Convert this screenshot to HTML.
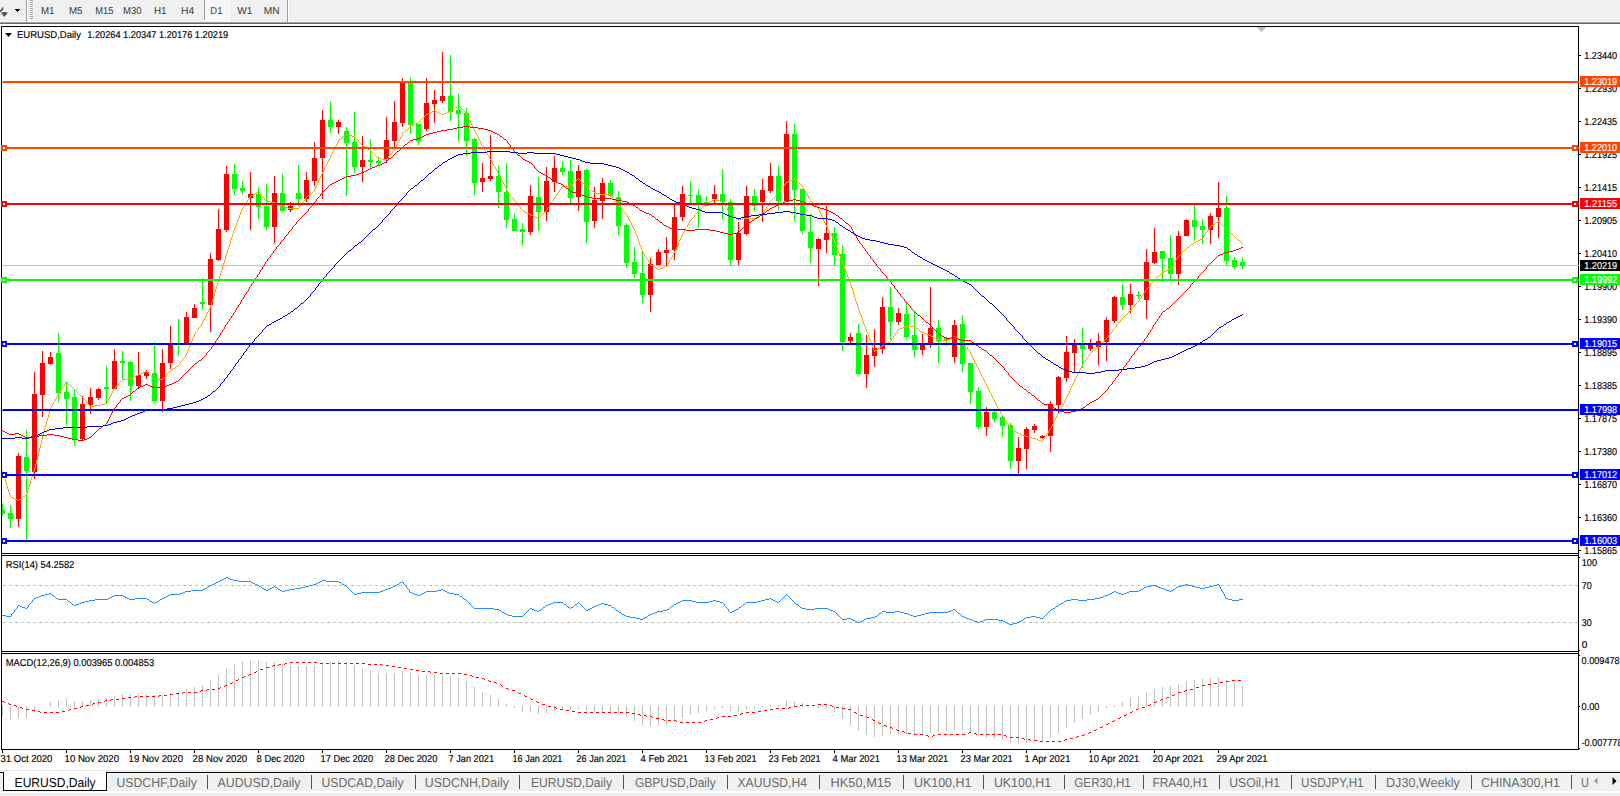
<!DOCTYPE html>
<html lang="en"><head><meta charset="utf-8"><title>EURUSD,Daily</title>
<style>
html,body{margin:0;padding:0;background:#fff;overflow:hidden}
body{width:1620px;height:796px}
svg{display:block;position:absolute;left:0;top:0}
text{white-space:pre}
</style></head><body>
<svg width="1620" height="796" viewBox="0 0 1620 796" font-family='"Liberation Sans", sans-serif' shape-rendering="crispEdges" text-rendering="geometricPrecision">
<rect x="0" y="0" width="1620" height="796" fill="#fff"/>
<rect x="0" y="0" width="1620" height="22" fill="#f0f0f0"/>
<rect x="0" y="21" width="1620" height="1" fill="#f4f4f4"/>
<rect x="0" y="22" width="1620" height="1" fill="#a0a0a0"/>
<rect x="0" y="23" width="1620" height="1" fill="#696969"/>
<g shape-rendering="auto">
<path d="M-1 11.5 Q2.6 10.6 2.6 7.4" stroke="#505050" stroke-width="1.6" fill="none"/>
<path d="M1 12.6 L4.4 17 L7.9 12.6 Q4.4 11.6 1 12.6Z" fill="#505050"/>
</g>
<rect x="15" y="9" width="5" height="1" fill="#000"/>
<rect x="16" y="10" width="3" height="1" fill="#000"/>
<rect x="17" y="11" width="1" height="1" fill="#000"/>
<rect x="26" y="0" width="1" height="22" fill="#a0a0a0"/>
<rect x="27" y="0" width="1" height="22" fill="#fff"/>
<rect x="30" y="0" width="3" height="1" fill="#a6a6a6"/>
<rect x="30" y="1" width="3" height="1" fill="#f8f8f8"/>
<rect x="30" y="2" width="3" height="1" fill="#a6a6a6"/>
<rect x="30" y="3" width="3" height="1" fill="#f8f8f8"/>
<rect x="30" y="4" width="3" height="1" fill="#a6a6a6"/>
<rect x="30" y="5" width="3" height="1" fill="#f8f8f8"/>
<rect x="30" y="6" width="3" height="1" fill="#a6a6a6"/>
<rect x="30" y="7" width="3" height="1" fill="#f8f8f8"/>
<rect x="30" y="8" width="3" height="1" fill="#a6a6a6"/>
<rect x="30" y="9" width="3" height="1" fill="#f8f8f8"/>
<rect x="30" y="10" width="3" height="1" fill="#a6a6a6"/>
<rect x="30" y="11" width="3" height="1" fill="#f8f8f8"/>
<rect x="30" y="12" width="3" height="1" fill="#a6a6a6"/>
<rect x="30" y="13" width="3" height="1" fill="#f8f8f8"/>
<rect x="30" y="14" width="3" height="1" fill="#a6a6a6"/>
<rect x="30" y="15" width="3" height="1" fill="#f8f8f8"/>
<rect x="30" y="16" width="3" height="1" fill="#a6a6a6"/>
<rect x="30" y="17" width="3" height="1" fill="#f8f8f8"/>
<rect x="30" y="18" width="3" height="1" fill="#a6a6a6"/>
<rect x="30" y="19" width="3" height="1" fill="#f8f8f8"/>
<defs><pattern id="chk" width="2" height="2" patternUnits="userSpaceOnUse"><rect width="2" height="2" fill="#f0f0f0"/><rect width="1" height="1" fill="#fff"/><rect x="1" y="1" width="1" height="1" fill="#fff"/></pattern></defs>
<rect x="205" y="0" width="24" height="20" fill="url(#chk)"/>
<rect x="204" y="0" width="1" height="20" fill="#a0a0a0"/>
<rect x="229" y="0" width="1" height="21" fill="#fff"/>
<rect x="204" y="20" width="26" height="1" fill="#fff"/>
<rect x="287" y="0" width="1" height="22" fill="#a0a0a0"/>
<rect x="288" y="0" width="1" height="22" fill="#fff"/>
<text x="40.9" y="14" font-size="10" fill="#3c3c3c" stroke="#3c3c3c" stroke-width="0.05" textLength="13.5" lengthAdjust="spacingAndGlyphs">M1</text>
<text x="68.9" y="14" font-size="10" fill="#3c3c3c" stroke="#3c3c3c" stroke-width="0.05" textLength="13.5" lengthAdjust="spacingAndGlyphs">M5</text>
<text x="95.2" y="14" font-size="10" fill="#3c3c3c" stroke="#3c3c3c" stroke-width="0.05" textLength="18.2" lengthAdjust="spacingAndGlyphs">M15</text>
<text x="123" y="14" font-size="10" fill="#3c3c3c" stroke="#3c3c3c" stroke-width="0.05" textLength="18.4" lengthAdjust="spacingAndGlyphs">M30</text>
<text x="154" y="14" font-size="10" fill="#3c3c3c" stroke="#3c3c3c" stroke-width="0.05" textLength="12.6" lengthAdjust="spacingAndGlyphs">H1</text>
<text x="180.9" y="14" font-size="10" fill="#3c3c3c" stroke="#3c3c3c" stroke-width="0.05" textLength="13.3" lengthAdjust="spacingAndGlyphs">H4</text>
<text x="210.3" y="14" font-size="10" fill="#3c3c3c" stroke="#3c3c3c" stroke-width="0.05" textLength="12.1" lengthAdjust="spacingAndGlyphs">D1</text>
<text x="237.2" y="14" font-size="10" fill="#3c3c3c" stroke="#3c3c3c" stroke-width="0.05" textLength="15.2" lengthAdjust="spacingAndGlyphs">W1</text>
<text x="263.8" y="14" font-size="10" fill="#3c3c3c" stroke="#3c3c3c" stroke-width="0.05" textLength="15.9" lengthAdjust="spacingAndGlyphs">MN</text>
<rect x="1" y="26" width="1578" height="1" fill="#000"/>
<rect x="1" y="26" width="1" height="724" fill="#000"/>
<rect x="1578" y="26" width="1" height="724" fill="#000"/>
<rect x="1" y="553" width="1578" height="1" fill="#000"/>
<rect x="1" y="555" width="1578" height="1" fill="#000"/>
<rect x="1" y="651" width="1578" height="1" fill="#000"/>
<rect x="1" y="653" width="1578" height="1" fill="#000"/>
<rect x="1" y="749" width="1578" height="1" fill="#000"/>
<rect x="1257" y="27" width="9" height="1" fill="#c0c0c0"/>
<rect x="1258" y="28" width="7" height="1" fill="#c0c0c0"/>
<rect x="1259" y="29" width="5" height="1" fill="#c0c0c0"/>
<rect x="1260" y="30" width="3" height="1" fill="#c0c0c0"/>
<rect x="1261" y="31" width="1" height="1" fill="#c0c0c0"/>
<defs><clipPath id="cm"><rect x="2" y="27" width="1577" height="526"/></clipPath><clipPath id="cr"><rect x="2" y="556" width="1576" height="95"/></clipPath><clipPath id="cd"><rect x="2" y="654" width="1576" height="95"/></clipPath></defs>
<g clip-path="url(#cm)">
<rect x="2" y="265" width="1577" height="1" fill="#c0c0c0"/>
<rect x="2" y="504" width="1" height="12" fill="#00ff00"/>
<rect x="0" y="510" width="5" height="4" fill="#00ff00"/>
<rect x="10" y="505" width="1" height="23" fill="#00ff00"/>
<rect x="8" y="513" width="5" height="6" fill="#00ff00"/>
<rect x="18" y="453" width="1" height="74" fill="#ff0000"/>
<rect x="16" y="456" width="5" height="63" fill="#ff0000"/>
<rect x="26" y="430" width="1" height="110" fill="#00ff00"/>
<rect x="24" y="457" width="5" height="14" fill="#00ff00"/>
<rect x="34" y="372" width="1" height="107" fill="#ff0000"/>
<rect x="32" y="394" width="5" height="78" fill="#ff0000"/>
<rect x="42" y="351" width="1" height="66" fill="#ff0000"/>
<rect x="40" y="363" width="5" height="32" fill="#ff0000"/>
<rect x="50" y="352" width="1" height="13" fill="#ff0000"/>
<rect x="48" y="357" width="5" height="7" fill="#ff0000"/>
<rect x="58" y="333" width="1" height="69" fill="#00ff00"/>
<rect x="56" y="353" width="5" height="40" fill="#00ff00"/>
<rect x="66" y="381" width="1" height="44" fill="#00ff00"/>
<rect x="64" y="392" width="5" height="7" fill="#00ff00"/>
<rect x="74" y="389" width="1" height="57" fill="#00ff00"/>
<rect x="72" y="397" width="5" height="42" fill="#00ff00"/>
<rect x="82" y="396" width="1" height="44" fill="#ff0000"/>
<rect x="80" y="404" width="5" height="35" fill="#ff0000"/>
<rect x="90" y="388" width="1" height="26" fill="#ff0000"/>
<rect x="88" y="397" width="5" height="8" fill="#ff0000"/>
<rect x="98" y="388" width="1" height="12" fill="#ff0000"/>
<rect x="96" y="389" width="5" height="9" fill="#ff0000"/>
<rect x="106" y="366" width="1" height="37" fill="#00ff00"/>
<rect x="104" y="387" width="5" height="2" fill="#00ff00"/>
<rect x="114" y="349" width="1" height="40" fill="#ff0000"/>
<rect x="112" y="361" width="5" height="28" fill="#ff0000"/>
<rect x="122" y="351" width="1" height="28" fill="#00ff00"/>
<rect x="120" y="361" width="5" height="2" fill="#00ff00"/>
<rect x="130" y="361" width="1" height="40" fill="#00ff00"/>
<rect x="128" y="362" width="5" height="24" fill="#00ff00"/>
<rect x="138" y="352" width="1" height="37" fill="#ff0000"/>
<rect x="136" y="375" width="5" height="11" fill="#ff0000"/>
<rect x="146" y="370" width="1" height="9" fill="#ff0000"/>
<rect x="144" y="372" width="5" height="4" fill="#ff0000"/>
<rect x="154" y="342" width="1" height="61" fill="#00ff00"/>
<rect x="152" y="373" width="5" height="28" fill="#00ff00"/>
<rect x="162" y="349" width="1" height="63" fill="#ff0000"/>
<rect x="160" y="363" width="5" height="38" fill="#ff0000"/>
<rect x="170" y="326" width="1" height="43" fill="#ff0000"/>
<rect x="168" y="344" width="5" height="19" fill="#ff0000"/>
<rect x="178" y="319" width="1" height="37" fill="#00ff00"/>
<rect x="176" y="343" width="5" height="2" fill="#00ff00"/>
<rect x="186" y="312" width="1" height="31" fill="#ff0000"/>
<rect x="184" y="317" width="5" height="26" fill="#ff0000"/>
<rect x="194" y="304" width="1" height="14" fill="#ff0000"/>
<rect x="192" y="308" width="5" height="10" fill="#ff0000"/>
<rect x="202" y="278" width="1" height="32" fill="#00ff00"/>
<rect x="200" y="302" width="5" height="2" fill="#00ff00"/>
<rect x="210" y="253" width="1" height="79" fill="#ff0000"/>
<rect x="208" y="259" width="5" height="46" fill="#ff0000"/>
<rect x="218" y="209" width="1" height="52" fill="#ff0000"/>
<rect x="216" y="229" width="5" height="31" fill="#ff0000"/>
<rect x="226" y="166" width="1" height="66" fill="#ff0000"/>
<rect x="224" y="174" width="5" height="56" fill="#ff0000"/>
<rect x="234" y="164" width="1" height="31" fill="#00ff00"/>
<rect x="232" y="174" width="5" height="15" fill="#00ff00"/>
<rect x="242" y="181" width="1" height="13" fill="#00ff00"/>
<rect x="240" y="188" width="5" height="3" fill="#00ff00"/>
<rect x="250" y="172" width="1" height="58" fill="#ff0000"/>
<rect x="248" y="194" width="5" height="4" fill="#ff0000"/>
<rect x="258" y="187" width="1" height="32" fill="#00ff00"/>
<rect x="256" y="194" width="5" height="13" fill="#00ff00"/>
<rect x="266" y="184" width="1" height="46" fill="#00ff00"/>
<rect x="264" y="206" width="5" height="21" fill="#00ff00"/>
<rect x="274" y="176" width="1" height="67" fill="#ff0000"/>
<rect x="272" y="193" width="5" height="34" fill="#ff0000"/>
<rect x="282" y="174" width="1" height="38" fill="#00ff00"/>
<rect x="280" y="193" width="5" height="18" fill="#00ff00"/>
<rect x="290" y="202" width="1" height="10" fill="#ff0000"/>
<rect x="288" y="206" width="5" height="4" fill="#ff0000"/>
<rect x="298" y="165" width="1" height="41" fill="#00ff00"/>
<rect x="296" y="193" width="5" height="6" fill="#00ff00"/>
<rect x="306" y="172" width="1" height="30" fill="#ff0000"/>
<rect x="304" y="180" width="5" height="19" fill="#ff0000"/>
<rect x="314" y="142" width="1" height="44" fill="#ff0000"/>
<rect x="312" y="158" width="5" height="23" fill="#ff0000"/>
<rect x="322" y="110" width="1" height="89" fill="#ff0000"/>
<rect x="320" y="120" width="5" height="38" fill="#ff0000"/>
<rect x="330" y="102" width="1" height="31" fill="#00ff00"/>
<rect x="328" y="120" width="5" height="7" fill="#00ff00"/>
<rect x="338" y="120" width="1" height="14" fill="#ff0000"/>
<rect x="336" y="122" width="5" height="5" fill="#ff0000"/>
<rect x="346" y="127" width="1" height="69" fill="#00ff00"/>
<rect x="344" y="131" width="5" height="12" fill="#00ff00"/>
<rect x="354" y="112" width="1" height="61" fill="#00ff00"/>
<rect x="352" y="142" width="5" height="25" fill="#00ff00"/>
<rect x="362" y="136" width="1" height="46" fill="#ff0000"/>
<rect x="360" y="160" width="5" height="7" fill="#ff0000"/>
<rect x="370" y="139" width="1" height="29" fill="#00ff00"/>
<rect x="368" y="160" width="5" height="2" fill="#00ff00"/>
<rect x="378" y="157" width="1" height="8" fill="#00ff00"/>
<rect x="376" y="161" width="5" height="2" fill="#00ff00"/>
<rect x="386" y="117" width="1" height="46" fill="#ff0000"/>
<rect x="384" y="140" width="5" height="19" fill="#ff0000"/>
<rect x="394" y="101" width="1" height="47" fill="#ff0000"/>
<rect x="392" y="122" width="5" height="19" fill="#ff0000"/>
<rect x="402" y="78" width="1" height="49" fill="#ff0000"/>
<rect x="400" y="83" width="5" height="40" fill="#ff0000"/>
<rect x="410" y="78" width="1" height="56" fill="#00ff00"/>
<rect x="408" y="83" width="5" height="42" fill="#00ff00"/>
<rect x="418" y="124" width="1" height="21" fill="#00ff00"/>
<rect x="416" y="124" width="5" height="17" fill="#00ff00"/>
<rect x="426" y="78" width="1" height="53" fill="#ff0000"/>
<rect x="424" y="103" width="5" height="26" fill="#ff0000"/>
<rect x="434" y="90" width="1" height="33" fill="#ff0000"/>
<rect x="432" y="100" width="5" height="4" fill="#ff0000"/>
<rect x="442" y="52" width="1" height="51" fill="#ff0000"/>
<rect x="440" y="96" width="5" height="5" fill="#ff0000"/>
<rect x="450" y="55" width="1" height="66" fill="#00ff00"/>
<rect x="448" y="96" width="5" height="16" fill="#00ff00"/>
<rect x="458" y="94" width="1" height="48" fill="#00ff00"/>
<rect x="456" y="110" width="5" height="4" fill="#00ff00"/>
<rect x="466" y="108" width="1" height="47" fill="#00ff00"/>
<rect x="464" y="113" width="5" height="28" fill="#00ff00"/>
<rect x="474" y="138" width="1" height="57" fill="#00ff00"/>
<rect x="472" y="139" width="5" height="44" fill="#00ff00"/>
<rect x="482" y="163" width="1" height="29" fill="#ff0000"/>
<rect x="480" y="178" width="5" height="4" fill="#ff0000"/>
<rect x="490" y="135" width="1" height="46" fill="#ff0000"/>
<rect x="488" y="176" width="5" height="3" fill="#ff0000"/>
<rect x="498" y="166" width="1" height="42" fill="#00ff00"/>
<rect x="496" y="176" width="5" height="16" fill="#00ff00"/>
<rect x="506" y="163" width="1" height="65" fill="#00ff00"/>
<rect x="504" y="192" width="5" height="28" fill="#00ff00"/>
<rect x="514" y="214" width="1" height="17" fill="#00ff00"/>
<rect x="512" y="219" width="5" height="12" fill="#00ff00"/>
<rect x="522" y="223" width="1" height="23" fill="#00ff00"/>
<rect x="520" y="229" width="5" height="3" fill="#00ff00"/>
<rect x="530" y="185" width="1" height="50" fill="#ff0000"/>
<rect x="528" y="196" width="5" height="36" fill="#ff0000"/>
<rect x="538" y="177" width="1" height="54" fill="#00ff00"/>
<rect x="536" y="197" width="5" height="15" fill="#00ff00"/>
<rect x="546" y="167" width="1" height="54" fill="#ff0000"/>
<rect x="544" y="181" width="5" height="31" fill="#ff0000"/>
<rect x="554" y="156" width="1" height="36" fill="#ff0000"/>
<rect x="552" y="168" width="5" height="14" fill="#ff0000"/>
<rect x="562" y="161" width="1" height="14" fill="#00ff00"/>
<rect x="560" y="168" width="5" height="4" fill="#00ff00"/>
<rect x="570" y="160" width="1" height="43" fill="#00ff00"/>
<rect x="568" y="171" width="5" height="27" fill="#00ff00"/>
<rect x="578" y="165" width="1" height="46" fill="#ff0000"/>
<rect x="576" y="171" width="5" height="26" fill="#ff0000"/>
<rect x="586" y="169" width="1" height="74" fill="#00ff00"/>
<rect x="584" y="170" width="5" height="52" fill="#00ff00"/>
<rect x="594" y="187" width="1" height="41" fill="#ff0000"/>
<rect x="592" y="200" width="5" height="21" fill="#ff0000"/>
<rect x="602" y="178" width="1" height="41" fill="#ff0000"/>
<rect x="600" y="183" width="5" height="18" fill="#ff0000"/>
<rect x="610" y="180" width="1" height="17" fill="#00ff00"/>
<rect x="608" y="183" width="5" height="13" fill="#00ff00"/>
<rect x="618" y="191" width="1" height="44" fill="#00ff00"/>
<rect x="616" y="197" width="5" height="29" fill="#00ff00"/>
<rect x="626" y="223" width="1" height="45" fill="#00ff00"/>
<rect x="624" y="225" width="5" height="38" fill="#00ff00"/>
<rect x="634" y="247" width="1" height="31" fill="#00ff00"/>
<rect x="632" y="262" width="5" height="12" fill="#00ff00"/>
<rect x="642" y="252" width="1" height="51" fill="#00ff00"/>
<rect x="640" y="273" width="5" height="22" fill="#00ff00"/>
<rect x="650" y="258" width="1" height="54" fill="#ff0000"/>
<rect x="648" y="264" width="5" height="31" fill="#ff0000"/>
<rect x="658" y="249" width="1" height="16" fill="#ff0000"/>
<rect x="656" y="252" width="5" height="13" fill="#ff0000"/>
<rect x="666" y="237" width="1" height="30" fill="#ff0000"/>
<rect x="664" y="250" width="5" height="3" fill="#ff0000"/>
<rect x="674" y="203" width="1" height="57" fill="#ff0000"/>
<rect x="672" y="217" width="5" height="33" fill="#ff0000"/>
<rect x="682" y="186" width="1" height="35" fill="#ff0000"/>
<rect x="680" y="194" width="5" height="23" fill="#ff0000"/>
<rect x="690" y="182" width="1" height="21" fill="#00ff00"/>
<rect x="688" y="195" width="5" height="1" fill="#00ff00"/>
<rect x="698" y="190" width="1" height="38" fill="#00ff00"/>
<rect x="696" y="195" width="5" height="8" fill="#00ff00"/>
<rect x="706" y="196" width="1" height="10" fill="#00ff00"/>
<rect x="704" y="202" width="5" height="4" fill="#00ff00"/>
<rect x="714" y="185" width="1" height="18" fill="#ff0000"/>
<rect x="712" y="194" width="5" height="5" fill="#ff0000"/>
<rect x="722" y="169" width="1" height="50" fill="#00ff00"/>
<rect x="720" y="194" width="5" height="8" fill="#00ff00"/>
<rect x="730" y="199" width="1" height="67" fill="#00ff00"/>
<rect x="728" y="202" width="5" height="58" fill="#00ff00"/>
<rect x="738" y="222" width="1" height="43" fill="#ff0000"/>
<rect x="736" y="233" width="5" height="27" fill="#ff0000"/>
<rect x="746" y="186" width="1" height="49" fill="#ff0000"/>
<rect x="744" y="196" width="5" height="38" fill="#ff0000"/>
<rect x="754" y="189" width="1" height="22" fill="#00ff00"/>
<rect x="752" y="196" width="5" height="10" fill="#00ff00"/>
<rect x="762" y="179" width="1" height="43" fill="#ff0000"/>
<rect x="760" y="190" width="5" height="12" fill="#ff0000"/>
<rect x="770" y="163" width="1" height="30" fill="#ff0000"/>
<rect x="768" y="176" width="5" height="15" fill="#ff0000"/>
<rect x="778" y="166" width="1" height="44" fill="#00ff00"/>
<rect x="776" y="176" width="5" height="25" fill="#00ff00"/>
<rect x="786" y="121" width="1" height="81" fill="#ff0000"/>
<rect x="784" y="134" width="5" height="67" fill="#ff0000"/>
<rect x="794" y="124" width="1" height="97" fill="#00ff00"/>
<rect x="792" y="134" width="5" height="56" fill="#00ff00"/>
<rect x="802" y="189" width="1" height="45" fill="#00ff00"/>
<rect x="800" y="189" width="5" height="42" fill="#00ff00"/>
<rect x="810" y="214" width="1" height="49" fill="#00ff00"/>
<rect x="808" y="232" width="5" height="16" fill="#00ff00"/>
<rect x="818" y="238" width="1" height="48" fill="#ff0000"/>
<rect x="816" y="239" width="5" height="10" fill="#ff0000"/>
<rect x="826" y="206" width="1" height="47" fill="#ff0000"/>
<rect x="824" y="233" width="5" height="7" fill="#ff0000"/>
<rect x="834" y="227" width="1" height="39" fill="#00ff00"/>
<rect x="832" y="233" width="5" height="22" fill="#00ff00"/>
<rect x="842" y="245" width="1" height="106" fill="#00ff00"/>
<rect x="840" y="254" width="5" height="88" fill="#00ff00"/>
<rect x="850" y="333" width="1" height="10" fill="#ff0000"/>
<rect x="848" y="337" width="5" height="4" fill="#ff0000"/>
<rect x="858" y="324" width="1" height="51" fill="#00ff00"/>
<rect x="856" y="333" width="5" height="41" fill="#00ff00"/>
<rect x="866" y="335" width="1" height="53" fill="#ff0000"/>
<rect x="864" y="355" width="5" height="19" fill="#ff0000"/>
<rect x="874" y="329" width="1" height="38" fill="#ff0000"/>
<rect x="872" y="348" width="5" height="8" fill="#ff0000"/>
<rect x="882" y="297" width="1" height="57" fill="#ff0000"/>
<rect x="880" y="307" width="5" height="42" fill="#ff0000"/>
<rect x="890" y="287" width="1" height="53" fill="#00ff00"/>
<rect x="888" y="307" width="5" height="15" fill="#00ff00"/>
<rect x="898" y="308" width="1" height="17" fill="#ff0000"/>
<rect x="896" y="313" width="5" height="9" fill="#ff0000"/>
<rect x="906" y="301" width="1" height="38" fill="#00ff00"/>
<rect x="904" y="314" width="5" height="23" fill="#00ff00"/>
<rect x="914" y="312" width="1" height="46" fill="#00ff00"/>
<rect x="912" y="335" width="5" height="15" fill="#00ff00"/>
<rect x="922" y="334" width="1" height="21" fill="#ff0000"/>
<rect x="920" y="345" width="5" height="5" fill="#ff0000"/>
<rect x="930" y="287" width="1" height="61" fill="#ff0000"/>
<rect x="928" y="328" width="5" height="17" fill="#ff0000"/>
<rect x="938" y="320" width="1" height="43" fill="#00ff00"/>
<rect x="936" y="328" width="5" height="13" fill="#00ff00"/>
<rect x="946" y="337" width="1" height="9" fill="#00ff00"/>
<rect x="944" y="338" width="5" height="3" fill="#00ff00"/>
<rect x="954" y="320" width="1" height="43" fill="#ff0000"/>
<rect x="952" y="325" width="5" height="32" fill="#ff0000"/>
<rect x="962" y="315" width="1" height="57" fill="#00ff00"/>
<rect x="960" y="324" width="5" height="40" fill="#00ff00"/>
<rect x="970" y="363" width="1" height="41" fill="#00ff00"/>
<rect x="968" y="363" width="5" height="29" fill="#00ff00"/>
<rect x="978" y="387" width="1" height="42" fill="#00ff00"/>
<rect x="976" y="391" width="5" height="36" fill="#00ff00"/>
<rect x="986" y="407" width="1" height="29" fill="#ff0000"/>
<rect x="984" y="412" width="5" height="15" fill="#ff0000"/>
<rect x="994" y="411" width="1" height="11" fill="#00ff00"/>
<rect x="992" y="412" width="5" height="7" fill="#00ff00"/>
<rect x="1002" y="415" width="1" height="22" fill="#00ff00"/>
<rect x="1000" y="417" width="5" height="9" fill="#00ff00"/>
<rect x="1010" y="423" width="1" height="46" fill="#00ff00"/>
<rect x="1008" y="425" width="5" height="36" fill="#00ff00"/>
<rect x="1018" y="437" width="1" height="37" fill="#ff0000"/>
<rect x="1016" y="448" width="5" height="13" fill="#ff0000"/>
<rect x="1026" y="427" width="1" height="42" fill="#ff0000"/>
<rect x="1024" y="429" width="5" height="20" fill="#ff0000"/>
<rect x="1034" y="424" width="1" height="9" fill="#ff0000"/>
<rect x="1032" y="426" width="5" height="4" fill="#ff0000"/>
<rect x="1042" y="435" width="1" height="4" fill="#ff0000"/>
<rect x="1040" y="436" width="5" height="2" fill="#ff0000"/>
<rect x="1050" y="401" width="1" height="51" fill="#ff0000"/>
<rect x="1048" y="404" width="5" height="32" fill="#ff0000"/>
<rect x="1058" y="376" width="1" height="38" fill="#ff0000"/>
<rect x="1056" y="377" width="5" height="28" fill="#ff0000"/>
<rect x="1066" y="336" width="1" height="46" fill="#ff0000"/>
<rect x="1064" y="352" width="5" height="26" fill="#ff0000"/>
<rect x="1074" y="339" width="1" height="33" fill="#ff0000"/>
<rect x="1072" y="345" width="5" height="8" fill="#ff0000"/>
<rect x="1082" y="328" width="1" height="40" fill="#00ff00"/>
<rect x="1080" y="345" width="5" height="4" fill="#00ff00"/>
<rect x="1090" y="339" width="1" height="12" fill="#ff0000"/>
<rect x="1088" y="345" width="5" height="4" fill="#ff0000"/>
<rect x="1098" y="333" width="1" height="32" fill="#ff0000"/>
<rect x="1096" y="341" width="5" height="6" fill="#ff0000"/>
<rect x="1106" y="317" width="1" height="44" fill="#ff0000"/>
<rect x="1104" y="320" width="5" height="22" fill="#ff0000"/>
<rect x="1114" y="296" width="1" height="27" fill="#ff0000"/>
<rect x="1112" y="297" width="5" height="24" fill="#ff0000"/>
<rect x="1122" y="284" width="1" height="26" fill="#00ff00"/>
<rect x="1120" y="297" width="5" height="8" fill="#00ff00"/>
<rect x="1130" y="284" width="1" height="29" fill="#ff0000"/>
<rect x="1128" y="294" width="5" height="11" fill="#ff0000"/>
<rect x="1138" y="291" width="1" height="8" fill="#00ff00"/>
<rect x="1136" y="295" width="5" height="1" fill="#00ff00"/>
<rect x="1146" y="249" width="1" height="70" fill="#ff0000"/>
<rect x="1144" y="262" width="5" height="38" fill="#ff0000"/>
<rect x="1154" y="228" width="1" height="36" fill="#ff0000"/>
<rect x="1152" y="252" width="5" height="11" fill="#ff0000"/>
<rect x="1162" y="251" width="1" height="31" fill="#00ff00"/>
<rect x="1160" y="251" width="5" height="8" fill="#00ff00"/>
<rect x="1170" y="235" width="1" height="44" fill="#00ff00"/>
<rect x="1168" y="258" width="5" height="16" fill="#00ff00"/>
<rect x="1178" y="231" width="1" height="54" fill="#ff0000"/>
<rect x="1176" y="236" width="5" height="38" fill="#ff0000"/>
<rect x="1186" y="219" width="1" height="17" fill="#ff0000"/>
<rect x="1184" y="220" width="5" height="16" fill="#ff0000"/>
<rect x="1194" y="205" width="1" height="36" fill="#00ff00"/>
<rect x="1192" y="220" width="5" height="7" fill="#00ff00"/>
<rect x="1202" y="219" width="1" height="25" fill="#00ff00"/>
<rect x="1200" y="226" width="5" height="4" fill="#00ff00"/>
<rect x="1210" y="213" width="1" height="31" fill="#ff0000"/>
<rect x="1208" y="216" width="5" height="14" fill="#ff0000"/>
<rect x="1218" y="182" width="1" height="56" fill="#ff0000"/>
<rect x="1216" y="208" width="5" height="9" fill="#ff0000"/>
<rect x="1226" y="196" width="1" height="69" fill="#00ff00"/>
<rect x="1224" y="208" width="5" height="53" fill="#00ff00"/>
<rect x="1234" y="257" width="1" height="12" fill="#00ff00"/>
<rect x="1232" y="260" width="5" height="7" fill="#00ff00"/>
<rect x="1242" y="257" width="1" height="12" fill="#00ff00"/>
<rect x="1240" y="262" width="5" height="4" fill="#00ff00"/>
<path fill="#ffa500" d="M458 105h1v1h-1zM457 106h1v1h-1zM459 106h1v1h-1zM455 107h2v1h-2zM460 107h1v1h-1zM454 108h1v1h-1zM461 108h1v1h-1zM453 109h1v1h-1zM462 109h1v1h-1zM434 110h1v1h-1zM451 110h2v1h-2zM463 110h1v1h-1zM432 111h2v1h-2zM435 111h2v1h-2zM449 111h2v1h-2zM464 111h1v1h-1zM430 112h2v1h-2zM437 112h2v1h-2zM447 112h2v1h-2zM465 112h1v1h-1zM428 113h2v1h-2zM439 113h2v1h-2zM444 113h3v1h-3zM466 113h1v2h-1zM426 114h2v1h-2zM441 114h3v1h-3zM425 115h1v1h-1zM467 115h1v2h-1zM424 116h1v1h-1zM423 117h1v1h-1zM468 117h1v2h-1zM422 118h1v1h-1zM421 119h1v1h-1zM469 119h1v2h-1zM420 120h1v1h-1zM419 121h1v1h-1zM470 121h1v2h-1zM418 122h1v1h-1zM416 123h2v1h-2zM471 123h1v2h-1zM414 124h2v1h-2zM412 125h2v1h-2zM472 125h1v2h-1zM410 126h2v1h-2zM409 127h1v1h-1zM473 127h1v2h-1zM408 128h1v1h-1zM407 129h1v1h-1zM474 129h1v2h-1zM405 130h2v1h-2zM404 131h1v1h-1zM475 131h1v2h-1zM403 132h1v1h-1zM402 133h1v2h-1zM476 133h1v2h-1zM346 134h2v1h-2zM345 135h1v1h-1zM348 135h4v1h-4zM401 135h1v2h-1zM477 135h1v2h-1zM343 136h2v1h-2zM352 136h3v1h-3zM342 137h1v1h-1zM355 137h1v1h-1zM400 137h1v2h-1zM478 137h1v2h-1zM341 138h1v1h-1zM356 138h1v1h-1zM339 139h2v1h-2zM357 139h1v1h-1zM399 139h1v2h-1zM479 139h1v2h-1zM338 140h1v2h-1zM358 140h1v2h-1zM398 141h1v2h-1zM480 141h1v2h-1zM337 142h1v2h-1zM359 142h1v1h-1zM360 143h1v1h-1zM397 143h1v2h-1zM481 143h1v2h-1zM336 144h1v2h-1zM361 144h1v1h-1zM362 145h1v1h-1zM396 145h1v2h-1zM482 145h1v1h-1zM335 146h1v2h-1zM363 146h2v1h-2zM483 146h1v2h-1zM365 147h1v1h-1zM395 147h1v2h-1zM334 148h1v2h-1zM366 148h2v1h-2zM484 148h1v2h-1zM368 149h2v1h-2zM394 149h1v1h-1zM333 150h1v2h-1zM370 150h1v1h-1zM393 150h1v1h-1zM485 150h1v2h-1zM371 151h1v1h-1zM392 151h1v2h-1zM332 152h1v2h-1zM372 152h1v1h-1zM486 152h1v1h-1zM373 153h1v1h-1zM391 153h1v1h-1zM487 153h1v2h-1zM331 154h1v2h-1zM374 154h1v1h-1zM390 154h1v1h-1zM375 155h1v1h-1zM389 155h1v1h-1zM488 155h1v2h-1zM330 156h1v2h-1zM376 156h1v1h-1zM388 156h1v2h-1zM377 157h1v1h-1zM489 157h1v2h-1zM329 158h1v2h-1zM378 158h4v1h-4zM387 158h1v1h-1zM382 159h5v1h-5zM490 159h1v1h-1zM328 160h1v2h-1zM491 160h1v2h-1zM327 162h1v2h-1zM492 162h1v2h-1zM326 164h1v2h-1zM493 164h1v2h-1zM325 166h1v2h-1zM494 166h1v1h-1zM495 167h1v2h-1zM324 168h1v2h-1zM496 169h1v2h-1zM323 170h1v2h-1zM497 171h1v2h-1zM322 172h1v2h-1zM498 173h1v1h-1zM321 174h1v2h-1zM499 174h1v2h-1zM320 176h1v2h-1zM500 176h1v2h-1zM319 178h1v2h-1zM501 178h1v2h-1zM578 178h1v1h-1zM794 178h1v1h-1zM577 179h1v1h-1zM579 179h1v1h-1zM792 179h2v1h-2zM795 179h1v1h-1zM318 180h1v3h-1zM502 180h1v2h-1zM576 180h1v1h-1zM580 180h1v1h-1zM790 180h2v1h-2zM796 180h1v1h-1zM575 181h1v1h-1zM581 181h1v1h-1zM788 181h2v1h-2zM797 181h1v1h-1zM503 182h1v2h-1zM574 182h1v1h-1zM582 182h1v1h-1zM786 182h2v1h-2zM798 182h1v1h-1zM317 183h1v2h-1zM573 183h1v1h-1zM583 183h1v1h-1zM785 183h1v2h-1zM799 183h1v1h-1zM504 184h1v2h-1zM572 184h1v1h-1zM584 184h1v1h-1zM800 184h1v1h-1zM316 185h1v2h-1zM571 185h1v1h-1zM585 185h1v1h-1zM784 185h1v1h-1zM801 185h1v1h-1zM505 186h1v2h-1zM562 186h9v1h-9zM586 186h1v1h-1zM783 186h1v1h-1zM802 186h1v1h-1zM315 187h1v2h-1zM561 187h1v2h-1zM587 187h1v1h-1zM782 187h1v2h-1zM803 187h1v2h-1zM506 188h1v2h-1zM588 188h2v1h-2zM314 189h1v2h-1zM560 189h1v1h-1zM590 189h1v1h-1zM781 189h1v1h-1zM804 189h1v2h-1zM507 190h1v2h-1zM559 190h1v2h-1zM591 190h1v1h-1zM780 190h1v1h-1zM258 191h1v1h-1zM313 191h1v1h-1zM592 191h2v1h-2zM779 191h1v2h-1zM805 191h1v2h-1zM256 192h2v1h-2zM259 192h1v1h-1zM312 192h1v1h-1zM508 192h1v1h-1zM558 192h1v1h-1zM594 192h2v1h-2zM255 193h1v1h-1zM260 193h1v2h-1zM311 193h1v1h-1zM509 193h1v1h-1zM557 193h1v2h-1zM596 193h4v1h-4zM778 193h1v1h-1zM806 193h1v1h-1zM253 194h2v1h-2zM309 194h2v1h-2zM510 194h1v2h-1zM600 194h11v1h-11zM777 194h1v1h-1zM807 194h1v2h-1zM251 195h2v1h-2zM261 195h1v1h-1zM308 195h1v1h-1zM556 195h1v1h-1zM611 195h1v2h-1zM776 195h1v1h-1zM250 196h1v1h-1zM262 196h1v1h-1zM307 196h1v1h-1zM511 196h1v1h-1zM555 196h1v2h-1zM775 196h1v1h-1zM808 196h1v2h-1zM249 197h1v2h-1zM263 197h1v1h-1zM306 197h1v1h-1zM512 197h1v1h-1zM612 197h1v1h-1zM774 197h1v1h-1zM264 198h1v2h-1zM305 198h1v2h-1zM513 198h1v2h-1zM554 198h1v1h-1zM613 198h1v1h-1zM773 198h1v1h-1zM809 198h1v2h-1zM248 199h1v1h-1zM553 199h1v2h-1zM614 199h1v2h-1zM714 199h2v1h-2zM772 199h1v1h-1zM247 200h1v2h-1zM265 200h1v1h-1zM304 200h1v1h-1zM514 200h1v1h-1zM712 200h2v1h-2zM716 200h4v1h-4zM771 200h1v1h-1zM810 200h1v1h-1zM266 201h4v1h-4zM303 201h1v1h-1zM515 201h1v1h-1zM552 201h1v1h-1zM615 201h1v1h-1zM710 201h2v1h-2zM720 201h3v1h-3zM770 201h1v1h-1zM811 201h1v1h-1zM246 202h1v1h-1zM270 202h5v1h-5zM302 202h1v2h-1zM516 202h1v2h-1zM551 202h1v2h-1zM616 202h1v1h-1zM708 202h2v1h-2zM723 202h1v2h-1zM769 202h1v2h-1zM812 202h1v1h-1zM245 203h1v2h-1zM275 203h2v1h-2zM617 203h1v2h-1zM706 203h2v1h-2zM813 203h1v1h-1zM277 204h2v1h-2zM301 204h1v1h-1zM517 204h1v1h-1zM550 204h1v1h-1zM705 204h1v1h-1zM724 204h1v1h-1zM768 204h1v2h-1zM814 204h1v1h-1zM244 205h1v1h-1zM279 205h2v1h-2zM300 205h1v1h-1zM518 205h1v1h-1zM549 205h1v2h-1zM618 205h1v1h-1zM704 205h1v1h-1zM725 205h1v2h-1zM815 205h1v1h-1zM243 206h1v2h-1zM281 206h3v1h-3zM299 206h1v2h-1zM519 206h1v1h-1zM619 206h1v1h-1zM703 206h1v1h-1zM767 206h1v1h-1zM816 206h1v1h-1zM284 207h4v1h-4zM520 207h1v2h-1zM548 207h1v1h-1zM620 207h1v1h-1zM702 207h1v1h-1zM726 207h1v1h-1zM766 207h1v2h-1zM817 207h1v1h-1zM242 208h1v2h-1zM288 208h11v1h-11zM547 208h1v2h-1zM621 208h1v1h-1zM701 208h1v1h-1zM727 208h1v2h-1zM818 208h1v2h-1zM521 209h1v1h-1zM622 209h1v2h-1zM700 209h1v1h-1zM765 209h1v1h-1zM241 210h1v2h-1zM522 210h1v1h-1zM546 210h1v1h-1zM699 210h1v1h-1zM728 210h1v1h-1zM764 210h1v2h-1zM819 210h1v2h-1zM523 211h2v1h-2zM545 211h1v1h-1zM623 211h1v1h-1zM698 211h1v1h-1zM729 211h1v2h-1zM240 212h1v3h-1zM525 212h2v1h-2zM544 212h1v1h-1zM624 212h1v1h-1zM697 212h1v1h-1zM763 212h1v2h-1zM820 212h1v2h-1zM527 213h2v1h-2zM543 213h1v1h-1zM625 213h1v1h-1zM696 213h1v1h-1zM730 213h1v1h-1zM529 214h2v1h-2zM542 214h1v1h-1zM626 214h1v1h-1zM695 214h1v1h-1zM731 214h1v1h-1zM762 214h1v1h-1zM821 214h1v2h-1zM239 215h1v3h-1zM531 215h2v1h-2zM541 215h1v1h-1zM627 215h1v2h-1zM694 215h1v2h-1zM732 215h2v1h-2zM760 215h2v1h-2zM533 216h2v1h-2zM540 216h1v1h-1zM734 216h1v1h-1zM758 216h2v1h-2zM822 216h1v3h-1zM535 217h2v1h-2zM539 217h1v1h-1zM628 217h1v2h-1zM693 217h1v1h-1zM735 217h1v1h-1zM756 217h2v1h-2zM238 218h1v2h-1zM537 218h2v1h-2zM692 218h1v1h-1zM736 218h2v1h-2zM743 218h13v1h-13zM629 219h1v2h-1zM691 219h1v1h-1zM738 219h5v1h-5zM823 219h1v2h-1zM237 220h1v3h-1zM690 220h1v1h-1zM630 221h1v2h-1zM689 221h1v2h-1zM824 221h1v2h-1zM1218 221h1v1h-1zM1216 222h2v1h-2zM1219 222h1v1h-1zM236 223h1v3h-1zM631 223h1v2h-1zM688 223h1v2h-1zM825 223h1v2h-1zM1215 223h1v1h-1zM1220 223h1v1h-1zM1213 224h2v1h-2zM1221 224h1v1h-1zM632 225h1v2h-1zM687 225h1v2h-1zM826 225h1v2h-1zM1211 225h2v1h-2zM1222 225h1v1h-1zM235 226h1v2h-1zM1210 226h1v1h-1zM1223 226h1v1h-1zM633 227h1v2h-1zM686 227h1v1h-1zM827 227h1v2h-1zM1209 227h1v2h-1zM1224 227h1v1h-1zM234 228h1v3h-1zM685 228h1v2h-1zM1225 228h1v1h-1zM634 229h1v2h-1zM828 229h1v2h-1zM1208 229h1v1h-1zM1226 229h1v1h-1zM684 230h1v2h-1zM1207 230h1v2h-1zM1227 230h1v1h-1zM233 231h1v3h-1zM635 231h1v3h-1zM829 231h1v2h-1zM1228 231h1v1h-1zM683 232h1v2h-1zM1206 232h1v1h-1zM1229 232h1v1h-1zM830 233h1v1h-1zM1205 233h1v2h-1zM1230 233h2v1h-2zM232 234h1v3h-1zM636 234h1v2h-1zM682 234h1v2h-1zM831 234h1v2h-1zM1232 234h1v1h-1zM1204 235h1v1h-1zM1233 235h1v1h-1zM637 236h1v3h-1zM681 236h1v2h-1zM832 236h1v2h-1zM1203 236h1v2h-1zM1234 236h1v1h-1zM231 237h1v3h-1zM1235 237h1v1h-1zM680 238h1v2h-1zM833 238h1v2h-1zM1202 238h1v1h-1zM1236 238h1v1h-1zM638 239h1v3h-1zM1200 239h2v1h-2zM1237 239h1v1h-1zM230 240h1v4h-1zM679 240h1v2h-1zM834 240h1v2h-1zM1198 240h2v1h-2zM1238 240h2v1h-2zM1196 241h2v1h-2zM1240 241h1v1h-1zM639 242h1v3h-1zM678 242h1v3h-1zM835 242h1v3h-1zM1194 242h2v1h-2zM1241 242h1v1h-1zM1193 243h1v1h-1zM1242 243h1v1h-1zM229 244h1v3h-1zM1191 244h2v1h-2zM640 245h1v2h-1zM677 245h1v2h-1zM836 245h1v2h-1zM1190 245h1v1h-1zM1189 246h1v1h-1zM228 247h1v3h-1zM641 247h1v3h-1zM676 247h1v2h-1zM837 247h1v3h-1zM1187 247h2v1h-2zM1186 248h1v1h-1zM675 249h1v2h-1zM1185 249h1v1h-1zM227 250h1v3h-1zM642 250h1v2h-1zM838 250h1v3h-1zM1184 250h1v1h-1zM674 251h1v2h-1zM1183 251h1v1h-1zM643 252h1v2h-1zM1182 252h1v1h-1zM226 253h1v3h-1zM673 253h1v2h-1zM839 253h1v3h-1zM1181 253h1v1h-1zM644 254h1v2h-1zM1180 254h1v1h-1zM672 255h1v2h-1zM1179 255h1v1h-1zM225 256h1v4h-1zM645 256h1v1h-1zM840 256h1v2h-1zM1178 256h1v1h-1zM646 257h1v2h-1zM671 257h1v2h-1zM1177 257h1v2h-1zM841 258h1v3h-1zM647 259h1v1h-1zM670 259h1v1h-1zM1176 259h1v1h-1zM224 260h1v3h-1zM648 260h1v2h-1zM669 260h1v2h-1zM1175 260h1v2h-1zM842 261h1v3h-1zM649 262h1v2h-1zM668 262h1v2h-1zM1174 262h1v1h-1zM223 263h1v3h-1zM1173 263h1v2h-1zM650 264h1v1h-1zM667 264h1v2h-1zM843 264h1v2h-1zM651 265h2v1h-2zM1172 265h1v1h-1zM222 266h1v4h-1zM653 266h1v1h-1zM665 266h2v1h-2zM844 266h1v3h-1zM1171 266h1v2h-1zM654 267h2v1h-2zM663 267h2v1h-2zM656 268h2v1h-2zM660 268h3v1h-3zM1170 268h1v1h-1zM658 269h2v1h-2zM845 269h1v3h-1zM1168 269h2v1h-2zM221 270h1v3h-1zM1166 270h2v1h-2zM1164 271h2v1h-2zM846 272h1v2h-1zM1162 272h2v1h-2zM220 273h1v3h-1zM1161 273h1v1h-1zM847 274h1v3h-1zM1160 274h1v1h-1zM1159 275h1v1h-1zM219 276h1v4h-1zM1158 276h1v1h-1zM848 277h1v3h-1zM1157 277h1v1h-1zM1156 278h1v1h-1zM1155 279h1v1h-1zM218 280h1v3h-1zM849 280h1v2h-1zM1154 280h1v1h-1zM1153 281h1v1h-1zM850 282h1v3h-1zM1152 282h1v1h-1zM217 283h1v3h-1zM1151 283h1v1h-1zM1150 284h1v2h-1zM851 285h1v3h-1zM216 286h1v3h-1zM1149 286h1v1h-1zM1148 287h1v1h-1zM852 288h1v3h-1zM1147 288h1v1h-1zM215 289h1v3h-1zM1146 289h1v1h-1zM1145 290h1v2h-1zM853 291h1v3h-1zM214 292h1v4h-1zM1144 292h1v1h-1zM1143 293h1v2h-1zM854 294h1v4h-1zM1142 295h1v1h-1zM213 296h1v3h-1zM1141 296h1v2h-1zM855 298h1v3h-1zM1140 298h1v1h-1zM212 299h1v3h-1zM1139 299h1v2h-1zM856 301h1v3h-1zM1138 301h1v1h-1zM211 302h1v3h-1zM1137 302h1v1h-1zM1136 303h1v1h-1zM857 304h1v3h-1zM1135 304h1v1h-1zM210 305h1v3h-1zM1134 305h1v2h-1zM858 307h1v3h-1zM1133 307h1v1h-1zM209 308h1v2h-1zM1132 308h1v1h-1zM1131 309h1v1h-1zM208 310h1v2h-1zM859 310h1v3h-1zM1130 310h1v1h-1zM1129 311h1v1h-1zM207 312h1v2h-1zM1128 312h1v1h-1zM860 313h1v2h-1zM1127 313h1v1h-1zM206 314h1v2h-1zM1126 314h1v1h-1zM861 315h1v3h-1zM1125 315h1v1h-1zM205 316h1v2h-1zM1124 316h1v1h-1zM1123 317h1v1h-1zM204 318h1v2h-1zM862 318h1v3h-1zM1122 318h1v1h-1zM1121 319h1v1h-1zM203 320h1v2h-1zM1120 320h1v2h-1zM863 321h1v3h-1zM202 322h1v2h-1zM1119 322h1v1h-1zM1118 323h1v1h-1zM201 324h1v2h-1zM864 324h1v2h-1zM1117 324h1v1h-1zM1116 325h1v2h-1zM200 326h1v1h-1zM865 326h1v3h-1zM905 326h10v1h-10zM199 327h1v1h-1zM903 327h2v1h-2zM915 327h1v1h-1zM1115 327h1v1h-1zM198 328h1v2h-1zM900 328h3v1h-3zM916 328h2v1h-2zM1114 328h1v1h-1zM866 329h1v3h-1zM898 329h2v1h-2zM918 329h1v1h-1zM1113 329h1v1h-1zM197 330h1v1h-1zM897 330h1v2h-1zM919 330h1v1h-1zM1112 330h1v2h-1zM196 331h1v1h-1zM920 331h2v1h-2zM195 332h1v2h-1zM867 332h1v2h-1zM896 332h1v1h-1zM922 332h2v1h-2zM1111 332h1v1h-1zM895 333h1v2h-1zM924 333h2v1h-2zM1110 333h1v1h-1zM194 334h1v2h-1zM868 334h1v3h-1zM926 334h3v1h-3zM1109 334h1v1h-1zM894 335h1v1h-1zM929 335h2v1h-2zM1108 335h1v2h-1zM193 336h1v2h-1zM893 336h1v2h-1zM931 336h2v1h-2zM954 336h1v1h-1zM869 337h1v3h-1zM933 337h2v1h-2zM952 337h2v1h-2zM955 337h2v1h-2zM1107 337h1v1h-1zM192 338h1v3h-1zM892 338h1v1h-1zM935 338h2v1h-2zM950 338h2v1h-2zM957 338h2v1h-2zM1106 338h1v1h-1zM891 339h1v2h-1zM937 339h5v1h-5zM948 339h2v1h-2zM959 339h2v1h-2zM1105 339h1v1h-1zM870 340h1v2h-1zM942 340h6v1h-6zM961 340h2v1h-2zM1104 340h1v1h-1zM191 341h1v2h-1zM890 341h1v1h-1zM963 341h1v2h-1zM1103 341h1v1h-1zM871 342h1v3h-1zM888 342h2v1h-2zM1102 342h1v1h-1zM190 343h1v3h-1zM886 343h2v1h-2zM964 343h1v1h-1zM1101 343h1v1h-1zM884 344h2v1h-2zM965 344h1v2h-1zM1100 344h1v1h-1zM872 345h1v3h-1zM882 345h2v1h-2zM1099 345h1v1h-1zM189 346h1v2h-1zM881 346h1v1h-1zM966 346h1v1h-1zM1098 346h1v1h-1zM879 347h2v1h-2zM967 347h1v2h-1zM1097 347h1v1h-1zM188 348h1v3h-1zM873 348h1v2h-1zM878 348h1v1h-1zM1096 348h1v1h-1zM877 349h1v1h-1zM968 349h1v1h-1zM1095 349h1v1h-1zM874 350h3v1h-3zM969 350h1v2h-1zM1093 350h2v1h-2zM187 351h1v2h-1zM874 351h1v1h-1zM1092 351h1v1h-1zM970 352h1v2h-1zM1091 352h1v1h-1zM186 353h1v2h-1zM1090 353h1v1h-1zM971 354h1v2h-1zM1089 354h1v2h-1zM185 355h1v2h-1zM972 356h1v2h-1zM1088 356h1v1h-1zM184 357h1v1h-1zM1087 357h1v1h-1zM183 358h1v1h-1zM973 358h1v2h-1zM1086 358h1v2h-1zM182 359h1v2h-1zM974 360h1v2h-1zM1085 360h1v1h-1zM181 361h1v1h-1zM1084 361h1v1h-1zM180 362h1v1h-1zM975 362h1v2h-1zM1083 362h1v2h-1zM179 363h1v2h-1zM976 364h1v2h-1zM1082 364h1v2h-1zM178 365h1v1h-1zM176 366h2v1h-2zM977 366h1v2h-1zM1081 366h1v2h-1zM175 367h1v1h-1zM173 368h2v1h-2zM978 368h1v2h-1zM1080 368h1v2h-1zM171 369h2v1h-2zM170 370h1v1h-1zM979 370h1v2h-1zM1079 370h1v2h-1zM145 371h2v1h-2zM169 371h1v1h-1zM143 372h2v1h-2zM147 372h1v1h-1zM168 372h1v1h-1zM980 372h1v2h-1zM1078 372h1v2h-1zM140 373h3v1h-3zM148 373h1v1h-1zM167 373h1v1h-1zM138 374h2v1h-2zM149 374h1v1h-1zM166 374h1v2h-1zM981 374h1v2h-1zM1077 374h1v2h-1zM136 375h2v1h-2zM150 375h1v1h-1zM134 376h2v1h-2zM151 376h1v1h-1zM165 376h1v1h-1zM982 376h1v2h-1zM1076 376h1v2h-1zM132 377h2v1h-2zM152 377h1v1h-1zM164 377h1v1h-1zM127 378h5v1h-5zM153 378h1v1h-1zM163 378h1v1h-1zM983 378h1v2h-1zM1075 378h1v2h-1zM122 379h5v1h-5zM154 379h9v1h-9zM121 380h1v1h-1zM984 380h1v2h-1zM1074 380h1v2h-1zM66 381h1v1h-1zM120 381h1v1h-1zM65 382h1v2h-1zM67 382h1v1h-1zM119 382h1v1h-1zM985 382h1v2h-1zM1073 382h1v2h-1zM68 383h1v1h-1zM118 383h1v2h-1zM64 384h1v2h-1zM69 384h1v1h-1zM986 384h1v2h-1zM1072 384h1v2h-1zM70 385h1v1h-1zM117 385h1v1h-1zM63 386h1v1h-1zM71 386h1v1h-1zM116 386h1v1h-1zM987 386h1v2h-1zM1071 386h1v2h-1zM62 387h1v2h-1zM72 387h1v1h-1zM115 387h1v1h-1zM73 388h1v1h-1zM114 388h1v1h-1zM988 388h1v2h-1zM1070 388h1v3h-1zM61 389h1v1h-1zM74 389h1v1h-1zM113 389h1v2h-1zM60 390h1v2h-1zM75 390h1v1h-1zM989 390h1v2h-1zM76 391h1v1h-1zM112 391h1v2h-1zM1069 391h1v2h-1zM59 392h1v2h-1zM77 392h1v1h-1zM990 392h1v2h-1zM78 393h1v1h-1zM111 393h1v2h-1zM1068 393h1v2h-1zM58 394h1v1h-1zM79 394h1v1h-1zM991 394h1v2h-1zM57 395h1v2h-1zM80 395h1v1h-1zM110 395h1v2h-1zM1067 395h1v2h-1zM81 396h1v1h-1zM992 396h1v2h-1zM56 397h1v2h-1zM82 397h1v1h-1zM109 397h1v2h-1zM1066 397h1v2h-1zM83 398h1v1h-1zM993 398h1v2h-1zM55 399h1v2h-1zM84 399h1v1h-1zM108 399h1v2h-1zM1065 399h1v2h-1zM85 400h1v1h-1zM994 400h1v2h-1zM54 401h1v1h-1zM86 401h1v2h-1zM107 401h1v2h-1zM1064 401h1v2h-1zM53 402h1v2h-1zM995 402h1v2h-1zM87 403h1v1h-1zM105 403h2v1h-2zM1063 403h1v2h-1zM52 404h1v2h-1zM88 404h1v1h-1zM101 404h4v1h-4zM996 404h1v2h-1zM89 405h1v1h-1zM95 405h6v1h-6zM1062 405h1v2h-1zM51 406h1v2h-1zM90 406h5v1h-5zM997 406h1v2h-1zM1061 407h1v2h-1zM50 408h1v2h-1zM998 408h1v1h-1zM999 409h1v2h-1zM1060 409h1v2h-1zM49 410h1v4h-1zM1000 411h1v2h-1zM1059 411h1v2h-1zM1001 413h1v2h-1zM1058 413h1v1h-1zM48 414h1v4h-1zM1057 414h1v2h-1zM1002 415h1v1h-1zM1003 416h1v2h-1zM1056 416h1v2h-1zM47 418h1v3h-1zM1004 418h1v2h-1zM1055 418h1v2h-1zM1005 420h1v1h-1zM1054 420h1v2h-1zM46 421h1v4h-1zM1006 421h1v2h-1zM1053 422h1v2h-1zM1007 423h1v1h-1zM1008 424h1v2h-1zM1052 424h1v2h-1zM45 425h1v3h-1zM1009 426h1v2h-1zM1051 426h1v2h-1zM44 428h1v4h-1zM1010 428h1v1h-1zM1050 428h1v1h-1zM1011 429h2v1h-2zM1049 429h1v2h-1zM1013 430h1v1h-1zM1014 431h2v1h-2zM1048 431h1v2h-1zM43 432h1v4h-1zM1016 432h2v1h-2zM1018 433h2v1h-2zM1047 433h1v1h-1zM1020 434h2v1h-2zM1046 434h1v2h-1zM1022 435h3v1h-3zM42 436h1v4h-1zM1025 436h3v1h-3zM1045 436h1v1h-1zM1028 437h4v1h-4zM1044 437h1v2h-1zM1032 438h4v1h-4zM1036 439h2v1h-2zM1043 439h1v2h-1zM41 440h1v4h-1zM1038 440h3v1h-3zM1041 441h2v1h-2zM40 444h1v4h-1zM39 448h1v4h-1zM38 452h1v4h-1zM37 456h1v4h-1zM36 460h1v4h-1zM35 464h1v4h-1zM34 468h1v3h-1zM2 471h1v2h-1zM33 471h1v3h-1zM3 473h1v3h-1zM32 474h1v3h-1zM4 476h1v3h-1zM31 477h1v3h-1zM5 479h1v3h-1zM30 480h1v4h-1zM6 482h1v4h-1zM29 484h1v3h-1zM7 486h1v3h-1zM28 487h1v3h-1zM8 489h1v3h-1zM27 490h1v3h-1zM9 492h1v3h-1zM26 493h1v2h-1zM10 495h1v2h-1zM25 495h1v1h-1zM23 496h2v1h-2zM11 497h2v1h-2zM22 497h1v1h-1zM13 498h2v1h-2zM21 498h1v1h-1zM15 499h2v1h-2zM19 499h2v1h-2zM17 500h2v1h-2z"/>
<path fill="#ff0000" d="M463 126h7v1h-7zM457 127h6v1h-6zM470 127h8v1h-8zM453 128h4v1h-4zM478 128h6v1h-6zM447 129h6v1h-6zM484 129h4v1h-4zM441 130h6v1h-6zM488 130h3v1h-3zM437 131h4v1h-4zM491 131h2v1h-2zM433 132h4v1h-4zM493 132h2v1h-2zM429 133h4v1h-4zM495 133h2v1h-2zM426 134h3v1h-3zM497 134h2v1h-2zM424 135h2v1h-2zM499 135h1v1h-1zM422 136h2v1h-2zM500 136h2v1h-2zM420 137h2v1h-2zM502 137h1v1h-1zM417 138h3v1h-3zM503 138h1v1h-1zM413 139h4v1h-4zM504 139h2v1h-2zM410 140h3v1h-3zM506 140h1v1h-1zM409 141h1v1h-1zM507 141h1v2h-1zM408 142h1v1h-1zM407 143h1v1h-1zM508 143h1v1h-1zM405 144h2v1h-2zM509 144h1v1h-1zM404 145h1v1h-1zM510 145h1v2h-1zM403 146h1v1h-1zM402 147h1v1h-1zM511 147h1v1h-1zM401 148h1v1h-1zM512 148h1v1h-1zM400 149h1v1h-1zM513 149h1v2h-1zM399 150h1v1h-1zM397 151h2v1h-2zM514 151h1v1h-1zM396 152h1v1h-1zM515 152h1v1h-1zM395 153h1v1h-1zM516 153h1v1h-1zM394 154h1v1h-1zM517 154h1v1h-1zM393 155h1v1h-1zM518 155h2v1h-2zM392 156h1v1h-1zM520 156h1v1h-1zM391 157h1v1h-1zM521 157h1v1h-1zM389 158h2v1h-2zM522 158h1v1h-1zM388 159h1v1h-1zM523 159h2v1h-2zM387 160h1v1h-1zM525 160h2v1h-2zM386 161h1v1h-1zM527 161h2v1h-2zM384 162h2v1h-2zM529 162h2v1h-2zM382 163h2v1h-2zM531 163h1v1h-1zM380 164h2v1h-2zM532 164h1v1h-1zM377 165h3v1h-3zM533 165h1v1h-1zM375 166h2v1h-2zM534 166h1v2h-1zM372 167h3v1h-3zM370 168h2v1h-2zM535 168h1v1h-1zM368 169h2v1h-2zM536 169h1v1h-1zM366 170h2v1h-2zM537 170h1v1h-1zM364 171h2v1h-2zM538 171h1v1h-1zM361 172h3v1h-3zM539 172h2v1h-2zM359 173h2v1h-2zM541 173h2v1h-2zM356 174h3v1h-3zM543 174h2v1h-2zM351 175h5v1h-5zM545 175h2v1h-2zM346 176h5v1h-5zM547 176h1v1h-1zM344 177h2v1h-2zM548 177h2v1h-2zM342 178h2v1h-2zM550 178h1v1h-1zM340 179h2v1h-2zM551 179h1v1h-1zM338 180h2v1h-2zM552 180h2v1h-2zM336 181h2v1h-2zM554 181h2v1h-2zM334 182h2v1h-2zM556 182h2v1h-2zM332 183h2v1h-2zM558 183h3v1h-3zM330 184h2v1h-2zM561 184h2v1h-2zM329 185h1v1h-1zM563 185h1v1h-1zM328 186h1v1h-1zM564 186h1v1h-1zM327 187h1v1h-1zM565 187h1v1h-1zM326 188h1v1h-1zM566 188h2v1h-2zM325 189h1v1h-1zM568 189h1v1h-1zM324 190h1v1h-1zM569 190h1v1h-1zM323 191h1v1h-1zM570 191h2v1h-2zM322 192h1v1h-1zM572 192h4v1h-4zM321 193h1v1h-1zM576 193h4v1h-4zM320 194h1v2h-1zM580 194h2v1h-2zM582 195h3v1h-3zM319 196h1v1h-1zM585 196h3v1h-3zM318 197h1v1h-1zM588 197h4v1h-4zM317 198h1v1h-1zM592 198h20v1h-20zM316 199h1v2h-1zM612 199h4v1h-4zM793 199h3v1h-3zM616 200h6v1h-6zM789 200h4v1h-4zM796 200h4v1h-4zM315 201h1v1h-1zM622 201h5v1h-5zM785 201h4v1h-4zM800 201h4v1h-4zM314 202h1v1h-1zM627 202h2v1h-2zM783 202h2v1h-2zM804 202h2v1h-2zM313 203h1v1h-1zM629 203h2v1h-2zM780 203h3v1h-3zM806 203h3v1h-3zM312 204h1v2h-1zM631 204h2v1h-2zM778 204h2v1h-2zM809 204h3v1h-3zM633 205h2v1h-2zM776 205h2v1h-2zM812 205h2v1h-2zM311 206h1v1h-1zM635 206h1v1h-1zM774 206h2v1h-2zM814 206h3v1h-3zM310 207h1v1h-1zM636 207h2v1h-2zM772 207h2v1h-2zM817 207h3v1h-3zM309 208h1v1h-1zM638 208h1v1h-1zM770 208h2v1h-2zM820 208h4v1h-4zM308 209h1v2h-1zM639 209h1v1h-1zM769 209h1v1h-1zM824 209h3v1h-3zM640 210h2v1h-2zM767 210h2v1h-2zM827 210h2v1h-2zM307 211h1v1h-1zM642 211h2v1h-2zM766 211h1v1h-1zM829 211h2v1h-2zM306 212h1v1h-1zM644 212h2v1h-2zM765 212h1v1h-1zM831 212h2v1h-2zM305 213h1v1h-1zM646 213h3v1h-3zM763 213h2v1h-2zM833 213h2v1h-2zM304 214h1v1h-1zM649 214h2v1h-2zM762 214h1v1h-1zM835 214h1v1h-1zM303 215h1v1h-1zM651 215h1v1h-1zM760 215h2v1h-2zM836 215h2v1h-2zM302 216h1v1h-1zM652 216h2v1h-2zM759 216h1v1h-1zM838 216h1v1h-1zM301 217h1v1h-1zM654 217h1v1h-1zM757 217h2v1h-2zM839 217h1v1h-1zM300 218h1v1h-1zM655 218h1v1h-1zM755 218h2v1h-2zM840 218h2v1h-2zM299 219h1v1h-1zM656 219h2v1h-2zM754 219h1v1h-1zM842 219h1v1h-1zM298 220h1v1h-1zM658 220h1v1h-1zM752 220h2v1h-2zM843 220h1v1h-1zM297 221h1v1h-1zM659 221h1v1h-1zM751 221h1v1h-1zM844 221h1v1h-1zM296 222h1v2h-1zM660 222h2v1h-2zM749 222h2v1h-2zM845 222h1v1h-1zM662 223h1v1h-1zM747 223h2v1h-2zM846 223h2v1h-2zM295 224h1v1h-1zM663 224h1v1h-1zM746 224h1v1h-1zM848 224h1v1h-1zM294 225h1v1h-1zM664 225h2v1h-2zM745 225h1v1h-1zM849 225h1v1h-1zM293 226h1v1h-1zM666 226h2v1h-2zM744 226h1v1h-1zM850 226h1v1h-1zM292 227h1v2h-1zM668 227h2v1h-2zM743 227h1v1h-1zM851 227h1v2h-1zM670 228h3v1h-3zM742 228h1v1h-1zM291 229h1v1h-1zM673 229h13v1h-13zM695 229h15v1h-15zM741 229h1v1h-1zM852 229h1v2h-1zM290 230h1v1h-1zM686 230h9v1h-9zM710 230h6v1h-6zM740 230h1v1h-1zM289 231h1v1h-1zM716 231h4v1h-4zM739 231h1v1h-1zM853 231h1v2h-1zM288 232h1v2h-1zM720 232h4v1h-4zM737 232h2v1h-2zM724 233h4v1h-4zM733 233h4v1h-4zM854 233h1v1h-1zM287 234h1v1h-1zM728 234h5v1h-5zM855 234h1v2h-1zM286 235h1v1h-1zM285 236h1v1h-1zM856 236h1v2h-1zM284 237h1v2h-1zM857 238h1v2h-1zM283 239h1v1h-1zM282 240h1v1h-1zM858 240h1v1h-1zM281 241h1v1h-1zM859 241h1v2h-1zM280 242h1v2h-1zM860 243h1v1h-1zM279 244h1v1h-1zM861 244h1v1h-1zM278 245h1v1h-1zM862 245h1v2h-1zM277 246h1v1h-1zM276 247h1v2h-1zM863 247h1v1h-1zM1241 247h2v1h-2zM864 248h1v1h-1zM1239 248h2v1h-2zM275 249h1v1h-1zM865 249h1v2h-1zM1236 249h3v1h-3zM274 250h1v1h-1zM1233 250h3v1h-3zM273 251h1v2h-1zM866 251h1v1h-1zM1229 251h4v1h-4zM867 252h1v2h-1zM1225 252h4v1h-4zM272 253h1v1h-1zM1223 253h2v1h-2zM271 254h1v1h-1zM868 254h1v1h-1zM1220 254h3v1h-3zM270 255h1v2h-1zM869 255h1v1h-1zM1218 255h2v1h-2zM870 256h1v2h-1zM1217 256h1v1h-1zM269 257h1v1h-1zM1216 257h1v1h-1zM268 258h1v1h-1zM871 258h1v1h-1zM1215 258h1v1h-1zM267 259h1v2h-1zM872 259h1v1h-1zM1214 259h1v1h-1zM873 260h1v2h-1zM1213 260h1v1h-1zM266 261h1v1h-1zM1212 261h1v1h-1zM265 262h1v2h-1zM874 262h1v1h-1zM1211 262h1v1h-1zM875 263h1v1h-1zM1210 263h1v1h-1zM264 264h1v2h-1zM876 264h1v2h-1zM1209 264h1v1h-1zM1208 265h1v1h-1zM263 266h1v1h-1zM877 266h1v1h-1zM1207 266h1v1h-1zM262 267h1v2h-1zM878 267h1v1h-1zM1206 267h1v2h-1zM879 268h1v1h-1zM261 269h1v1h-1zM880 269h1v2h-1zM1205 269h1v1h-1zM260 270h1v2h-1zM1204 270h1v1h-1zM881 271h1v1h-1zM1203 271h1v1h-1zM259 272h1v2h-1zM882 272h1v1h-1zM1202 272h1v1h-1zM883 273h1v1h-1zM1201 273h1v1h-1zM258 274h1v1h-1zM884 274h1v1h-1zM1200 274h1v1h-1zM257 275h1v2h-1zM885 275h1v1h-1zM1199 275h1v1h-1zM886 276h1v2h-1zM1198 276h1v2h-1zM256 277h1v1h-1zM255 278h1v2h-1zM887 278h1v1h-1zM1197 278h1v1h-1zM888 279h1v1h-1zM1196 279h1v1h-1zM254 280h1v1h-1zM889 280h1v1h-1zM1195 280h1v1h-1zM253 281h1v2h-1zM890 281h1v1h-1zM1194 281h1v1h-1zM891 282h1v2h-1zM1193 282h1v1h-1zM252 283h1v1h-1zM1192 283h1v1h-1zM251 284h1v2h-1zM892 284h1v1h-1zM1191 284h1v1h-1zM893 285h1v1h-1zM1190 285h1v2h-1zM250 286h1v1h-1zM894 286h1v2h-1zM249 287h1v2h-1zM1189 287h1v1h-1zM895 288h1v1h-1zM1188 288h1v1h-1zM248 289h1v2h-1zM896 289h1v1h-1zM1187 289h1v1h-1zM897 290h1v2h-1zM1186 290h1v1h-1zM247 291h1v1h-1zM1185 291h1v1h-1zM246 292h1v2h-1zM898 292h1v1h-1zM1184 292h1v1h-1zM899 293h1v1h-1zM1183 293h1v1h-1zM245 294h1v1h-1zM900 294h1v2h-1zM1182 294h1v1h-1zM244 295h1v2h-1zM1181 295h1v1h-1zM901 296h1v1h-1zM1180 296h1v1h-1zM243 297h1v2h-1zM902 297h1v1h-1zM1179 297h1v1h-1zM903 298h1v1h-1zM1178 298h1v1h-1zM242 299h1v1h-1zM904 299h1v2h-1zM1177 299h1v1h-1zM241 300h1v2h-1zM1176 300h1v1h-1zM905 301h1v1h-1zM1175 301h1v1h-1zM240 302h1v2h-1zM906 302h1v1h-1zM1174 302h1v1h-1zM907 303h1v1h-1zM1173 303h1v1h-1zM239 304h1v1h-1zM908 304h1v1h-1zM1172 304h1v1h-1zM238 305h1v2h-1zM909 305h1v1h-1zM1171 305h1v1h-1zM910 306h1v2h-1zM1170 306h1v1h-1zM237 307h1v1h-1zM1169 307h1v1h-1zM236 308h1v2h-1zM911 308h1v1h-1zM1167 308h2v1h-2zM912 309h1v1h-1zM1166 309h1v1h-1zM235 310h1v2h-1zM913 310h1v1h-1zM1165 310h1v1h-1zM914 311h1v1h-1zM1163 311h2v1h-2zM234 312h1v1h-1zM915 312h1v1h-1zM1162 312h1v1h-1zM233 313h1v2h-1zM916 313h1v1h-1zM1161 313h1v2h-1zM917 314h1v1h-1zM232 315h1v1h-1zM918 315h2v1h-2zM1160 315h1v1h-1zM231 316h1v2h-1zM920 316h1v1h-1zM1159 316h1v2h-1zM921 317h1v1h-1zM230 318h1v1h-1zM922 318h1v1h-1zM1158 318h1v1h-1zM229 319h1v2h-1zM923 319h1v1h-1zM1157 319h1v2h-1zM924 320h1v1h-1zM228 321h1v1h-1zM925 321h1v1h-1zM1156 321h1v1h-1zM227 322h1v2h-1zM926 322h2v1h-2zM1155 322h1v2h-1zM928 323h1v1h-1zM226 324h1v1h-1zM929 324h1v1h-1zM1154 324h1v1h-1zM225 325h1v2h-1zM930 325h1v1h-1zM1153 325h1v2h-1zM931 326h1v1h-1zM224 327h1v2h-1zM932 327h1v1h-1zM1152 327h1v2h-1zM933 328h1v1h-1zM223 329h1v1h-1zM934 329h1v1h-1zM1151 329h1v1h-1zM222 330h1v2h-1zM935 330h1v1h-1zM1150 330h1v2h-1zM936 331h1v1h-1zM221 332h1v1h-1zM937 332h1v1h-1zM1149 332h1v1h-1zM220 333h1v2h-1zM938 333h1v1h-1zM1148 333h1v2h-1zM939 334h2v1h-2zM219 335h1v2h-1zM941 335h1v1h-1zM1147 335h1v2h-1zM942 336h2v1h-2zM218 337h1v1h-1zM944 337h2v1h-2zM951 337h5v1h-5zM1146 337h1v1h-1zM217 338h1v2h-1zM946 338h5v1h-5zM956 338h2v1h-2zM1145 338h1v1h-1zM958 339h3v1h-3zM1144 339h1v2h-1zM216 340h1v1h-1zM961 340h10v1h-10zM215 341h1v2h-1zM971 341h1v1h-1zM1143 341h1v1h-1zM972 342h2v1h-2zM1142 342h1v1h-1zM214 343h1v1h-1zM974 343h1v1h-1zM1141 343h1v1h-1zM213 344h1v2h-1zM975 344h1v1h-1zM1140 344h1v2h-1zM976 345h2v1h-2zM212 346h1v1h-1zM978 346h1v1h-1zM1139 346h1v1h-1zM211 347h1v2h-1zM979 347h2v1h-2zM1138 347h1v1h-1zM981 348h1v1h-1zM1137 348h1v2h-1zM210 349h1v1h-1zM982 349h2v1h-2zM209 350h1v1h-1zM984 350h2v1h-2zM1136 350h1v1h-1zM208 351h1v1h-1zM986 351h1v1h-1zM1135 351h1v1h-1zM207 352h1v1h-1zM987 352h1v1h-1zM1134 352h1v2h-1zM206 353h1v2h-1zM988 353h1v1h-1zM989 354h1v1h-1zM1133 354h1v1h-1zM205 355h1v1h-1zM990 355h2v1h-2zM1132 355h1v1h-1zM204 356h1v1h-1zM992 356h1v1h-1zM1131 356h1v2h-1zM203 357h1v1h-1zM993 357h1v1h-1zM202 358h1v1h-1zM994 358h1v1h-1zM1130 358h1v1h-1zM201 359h1v1h-1zM995 359h1v1h-1zM1129 359h1v2h-1zM199 360h2v1h-2zM996 360h1v1h-1zM198 361h1v1h-1zM997 361h1v1h-1zM1128 361h1v1h-1zM197 362h1v1h-1zM998 362h1v1h-1zM1127 362h1v1h-1zM195 363h2v1h-2zM999 363h1v1h-1zM1126 363h1v2h-1zM194 364h1v1h-1zM1000 364h1v1h-1zM193 365h1v1h-1zM1001 365h1v1h-1zM1125 365h1v1h-1zM192 366h1v1h-1zM1002 366h1v1h-1zM1124 366h1v1h-1zM191 367h1v1h-1zM1003 367h1v1h-1zM1123 367h1v2h-1zM190 368h1v1h-1zM1004 368h1v2h-1zM189 369h1v1h-1zM1122 369h1v1h-1zM188 370h1v1h-1zM1005 370h1v1h-1zM1121 370h1v2h-1zM187 371h1v1h-1zM1006 371h1v1h-1zM186 372h1v1h-1zM1007 372h1v1h-1zM1120 372h1v1h-1zM185 373h1v1h-1zM1008 373h1v2h-1zM1119 373h1v1h-1zM184 374h1v1h-1zM1118 374h1v2h-1zM183 375h1v1h-1zM1009 375h1v1h-1zM182 376h1v1h-1zM1010 376h1v1h-1zM1117 376h1v1h-1zM181 377h1v1h-1zM1011 377h1v1h-1zM1116 377h1v1h-1zM180 378h1v1h-1zM1012 378h1v1h-1zM1115 378h1v2h-1zM179 379h1v1h-1zM1013 379h1v1h-1zM178 380h1v1h-1zM1014 380h1v1h-1zM1114 380h1v1h-1zM176 381h2v1h-2zM1015 381h1v1h-1zM1113 381h1v1h-1zM174 382h2v1h-2zM1016 382h1v1h-1zM1112 382h1v2h-1zM172 383h2v1h-2zM1017 383h1v1h-1zM145 384h3v1h-3zM169 384h3v1h-3zM1018 384h1v1h-1zM1111 384h1v1h-1zM143 385h2v1h-2zM148 385h2v1h-2zM167 385h2v1h-2zM1019 385h1v1h-1zM1110 385h1v1h-1zM140 386h3v1h-3zM150 386h3v1h-3zM164 386h3v1h-3zM1020 386h2v1h-2zM1109 386h1v1h-1zM138 387h2v1h-2zM153 387h11v1h-11zM1022 387h1v1h-1zM1108 387h1v2h-1zM137 388h1v1h-1zM1023 388h1v1h-1zM136 389h1v1h-1zM1024 389h2v1h-2zM1107 389h1v1h-1zM135 390h1v1h-1zM1026 390h1v1h-1zM1106 390h1v1h-1zM133 391h2v1h-2zM1027 391h1v1h-1zM1105 391h1v1h-1zM132 392h1v1h-1zM1028 392h2v1h-2zM1104 392h1v1h-1zM131 393h1v1h-1zM1030 393h1v1h-1zM1103 393h1v1h-1zM130 394h1v1h-1zM1031 394h1v1h-1zM1102 394h1v1h-1zM128 395h2v1h-2zM1032 395h2v1h-2zM1101 395h1v1h-1zM126 396h2v1h-2zM1034 396h1v1h-1zM1100 396h1v1h-1zM124 397h2v1h-2zM1035 397h1v1h-1zM1099 397h1v1h-1zM122 398h2v1h-2zM1036 398h1v1h-1zM1098 398h1v1h-1zM121 399h1v1h-1zM1037 399h1v1h-1zM1096 399h2v1h-2zM120 400h1v2h-1zM1038 400h2v1h-2zM1094 400h2v1h-2zM1040 401h1v1h-1zM1092 401h2v1h-2zM119 402h1v1h-1zM1041 402h1v1h-1zM1090 402h2v1h-2zM118 403h1v1h-1zM1042 403h2v1h-2zM1089 403h1v1h-1zM117 404h1v1h-1zM1044 404h4v1h-4zM1087 404h2v1h-2zM116 405h1v2h-1zM1048 405h3v1h-3zM1086 405h1v1h-1zM1051 406h2v1h-2zM1085 406h1v1h-1zM115 407h1v1h-1zM1053 407h1v1h-1zM1083 407h2v1h-2zM114 408h1v1h-1zM1054 408h2v1h-2zM1081 408h2v1h-2zM113 409h1v2h-1zM1056 409h2v1h-2zM1079 409h2v1h-2zM1058 410h2v1h-2zM1076 410h3v1h-3zM112 411h1v2h-1zM1060 411h4v1h-4zM1071 411h5v1h-5zM1064 412h7v1h-7zM111 413h1v2h-1zM110 415h1v2h-1zM109 417h1v2h-1zM108 419h1v2h-1zM107 421h1v2h-1zM106 423h1v1h-1zM105 424h1v1h-1zM103 425h2v1h-2zM102 426h1v1h-1zM101 427h1v1h-1zM99 428h2v1h-2zM98 429h1v1h-1zM2 430h1v1h-1zM97 430h1v1h-1zM3 431h2v1h-2zM96 431h1v1h-1zM5 432h2v1h-2zM95 432h1v1h-1zM7 433h2v1h-2zM15 433h4v1h-4zM94 433h1v1h-1zM9 434h6v1h-6zM19 434h2v1h-2zM47 434h7v1h-7zM93 434h1v1h-1zM21 435h2v1h-2zM39 435h8v1h-8zM54 435h6v1h-6zM92 435h1v1h-1zM23 436h2v1h-2zM31 436h8v1h-8zM60 436h4v1h-4zM91 436h1v1h-1zM25 437h6v1h-6zM64 437h4v1h-4zM89 437h2v1h-2zM68 438h4v1h-4zM87 438h2v1h-2zM72 439h6v1h-6zM84 439h3v1h-3zM78 440h6v1h-6z"/>
<path fill="#0000cd" d="M487 151h23v1h-23zM471 152h16v1h-16zM510 152h8v1h-8zM527 152h7v1h-7zM463 153h8v1h-8zM518 153h9v1h-9zM534 153h22v1h-22zM458 154h5v1h-5zM556 154h4v1h-4zM456 155h2v1h-2zM560 155h4v1h-4zM454 156h2v1h-2zM564 156h4v1h-4zM452 157h2v1h-2zM568 157h4v1h-4zM450 158h2v1h-2zM572 158h4v1h-4zM448 159h2v1h-2zM576 159h4v1h-4zM447 160h1v1h-1zM580 160h2v1h-2zM445 161h2v1h-2zM582 161h3v1h-3zM443 162h2v1h-2zM585 162h5v1h-5zM442 163h1v1h-1zM590 163h14v1h-14zM441 164h1v1h-1zM604 164h4v1h-4zM439 165h2v1h-2zM608 165h4v1h-4zM438 166h1v1h-1zM612 166h4v1h-4zM437 167h1v1h-1zM616 167h3v1h-3zM435 168h2v1h-2zM619 168h2v1h-2zM434 169h1v1h-1zM621 169h2v1h-2zM433 170h1v1h-1zM623 170h2v1h-2zM432 171h1v1h-1zM625 171h2v1h-2zM431 172h1v1h-1zM627 172h2v1h-2zM429 173h2v1h-2zM629 173h1v1h-1zM428 174h1v1h-1zM630 174h2v1h-2zM427 175h1v1h-1zM632 175h2v1h-2zM426 176h1v1h-1zM634 176h1v1h-1zM425 177h1v1h-1zM635 177h1v1h-1zM424 178h1v1h-1zM636 178h2v1h-2zM423 179h1v1h-1zM638 179h1v1h-1zM421 180h2v1h-2zM639 180h1v1h-1zM420 181h1v1h-1zM640 181h2v1h-2zM419 182h1v1h-1zM642 182h1v1h-1zM418 183h1v1h-1zM643 183h2v1h-2zM417 184h1v1h-1zM645 184h1v1h-1zM415 185h2v1h-2zM646 185h2v1h-2zM414 186h1v1h-1zM648 186h2v1h-2zM413 187h1v1h-1zM650 187h1v1h-1zM411 188h2v1h-2zM651 188h2v1h-2zM410 189h1v1h-1zM653 189h2v1h-2zM409 190h1v1h-1zM655 190h2v1h-2zM408 191h1v1h-1zM657 191h2v1h-2zM407 192h1v1h-1zM659 192h2v1h-2zM406 193h1v2h-1zM661 193h1v1h-1zM662 194h2v1h-2zM405 195h1v1h-1zM664 195h2v1h-2zM404 196h1v1h-1zM666 196h1v1h-1zM403 197h1v1h-1zM667 197h2v1h-2zM402 198h1v1h-1zM669 198h1v1h-1zM401 199h1v1h-1zM670 199h2v1h-2zM400 200h1v1h-1zM672 200h2v1h-2zM399 201h1v1h-1zM674 201h2v1h-2zM398 202h1v2h-1zM676 202h4v1h-4zM680 203h3v1h-3zM397 204h1v1h-1zM683 204h2v1h-2zM396 205h1v1h-1zM685 205h2v1h-2zM395 206h1v1h-1zM687 206h2v1h-2zM394 207h1v1h-1zM689 207h3v1h-3zM393 208h1v1h-1zM692 208h4v1h-4zM392 209h1v1h-1zM696 209h4v1h-4zM391 210h1v1h-1zM700 210h2v1h-2zM390 211h1v2h-1zM702 211h3v1h-3zM783 211h7v1h-7zM705 212h18v1h-18zM775 212h8v1h-8zM790 212h6v1h-6zM389 213h1v1h-1zM723 213h2v1h-2zM767 213h8v1h-8zM796 213h4v1h-4zM388 214h1v1h-1zM725 214h2v1h-2zM759 214h8v1h-8zM800 214h6v1h-6zM387 215h1v1h-1zM727 215h2v1h-2zM751 215h8v1h-8zM806 215h6v1h-6zM386 216h1v1h-1zM729 216h3v1h-3zM745 216h6v1h-6zM812 216h2v1h-2zM385 217h1v1h-1zM732 217h4v1h-4zM741 217h4v1h-4zM814 217h3v1h-3zM384 218h1v1h-1zM736 218h5v1h-5zM817 218h11v1h-11zM383 219h1v1h-1zM828 219h4v1h-4zM382 220h1v2h-1zM832 220h3v1h-3zM835 221h1v1h-1zM381 222h1v1h-1zM836 222h2v1h-2zM380 223h1v1h-1zM838 223h1v1h-1zM379 224h1v1h-1zM839 224h1v1h-1zM378 225h1v1h-1zM840 225h2v1h-2zM377 226h1v1h-1zM842 226h1v1h-1zM376 227h1v1h-1zM843 227h2v1h-2zM375 228h1v1h-1zM845 228h1v1h-1zM373 229h2v1h-2zM846 229h2v1h-2zM372 230h1v1h-1zM848 230h2v1h-2zM371 231h1v1h-1zM850 231h1v1h-1zM370 232h1v1h-1zM851 232h2v1h-2zM369 233h1v1h-1zM853 233h1v1h-1zM368 234h1v1h-1zM854 234h2v1h-2zM367 235h1v1h-1zM856 235h2v1h-2zM366 236h1v1h-1zM858 236h2v1h-2zM365 237h1v1h-1zM860 237h2v1h-2zM364 238h1v1h-1zM862 238h3v1h-3zM363 239h1v1h-1zM865 239h5v1h-5zM362 240h1v1h-1zM870 240h6v1h-6zM361 241h1v1h-1zM876 241h4v1h-4zM359 242h2v1h-2zM880 242h4v1h-4zM358 243h1v1h-1zM884 243h4v1h-4zM357 244h1v1h-1zM888 244h6v1h-6zM355 245h2v1h-2zM894 245h6v1h-6zM354 246h1v1h-1zM900 246h4v1h-4zM353 247h1v1h-1zM904 247h3v1h-3zM352 248h1v1h-1zM907 248h1v1h-1zM351 249h1v1h-1zM908 249h2v1h-2zM349 250h2v1h-2zM910 250h1v1h-1zM348 251h1v1h-1zM911 251h1v1h-1zM347 252h1v1h-1zM912 252h2v1h-2zM346 253h1v1h-1zM914 253h1v1h-1zM345 254h1v1h-1zM915 254h2v1h-2zM344 255h1v1h-1zM917 255h1v1h-1zM343 256h1v1h-1zM918 256h2v1h-2zM342 257h1v1h-1zM920 257h2v1h-2zM341 258h1v1h-1zM922 258h1v1h-1zM340 259h1v1h-1zM923 259h2v1h-2zM339 260h1v1h-1zM925 260h2v1h-2zM338 261h1v1h-1zM927 261h2v1h-2zM337 262h1v1h-1zM929 262h2v1h-2zM336 263h1v1h-1zM931 263h2v1h-2zM335 264h1v1h-1zM933 264h2v1h-2zM334 265h1v2h-1zM935 265h2v1h-2zM937 266h2v1h-2zM333 267h1v1h-1zM939 267h2v1h-2zM332 268h1v1h-1zM941 268h2v1h-2zM331 269h1v1h-1zM943 269h2v1h-2zM330 270h1v1h-1zM945 270h2v1h-2zM329 271h1v1h-1zM947 271h2v1h-2zM328 272h1v1h-1zM949 272h1v1h-1zM327 273h1v1h-1zM950 273h2v1h-2zM326 274h1v2h-1zM952 274h2v1h-2zM954 275h1v1h-1zM325 276h1v1h-1zM955 276h2v1h-2zM324 277h1v1h-1zM957 277h1v1h-1zM323 278h1v1h-1zM958 278h2v1h-2zM322 279h1v1h-1zM960 279h2v1h-2zM321 280h1v2h-1zM962 280h1v1h-1zM963 281h2v1h-2zM320 282h1v1h-1zM965 282h2v1h-2zM319 283h1v1h-1zM967 283h2v1h-2zM318 284h1v2h-1zM969 284h2v1h-2zM971 285h1v1h-1zM317 286h1v1h-1zM972 286h1v1h-1zM316 287h1v1h-1zM973 287h1v1h-1zM315 288h1v2h-1zM974 288h1v1h-1zM975 289h1v1h-1zM314 290h1v1h-1zM976 290h1v1h-1zM313 291h1v1h-1zM977 291h1v1h-1zM312 292h1v1h-1zM978 292h1v1h-1zM311 293h1v1h-1zM979 293h1v1h-1zM310 294h1v2h-1zM980 294h1v1h-1zM981 295h1v1h-1zM309 296h1v1h-1zM982 296h2v1h-2zM308 297h1v1h-1zM984 297h1v1h-1zM307 298h1v1h-1zM985 298h1v1h-1zM306 299h1v1h-1zM986 299h1v1h-1zM305 300h1v1h-1zM987 300h1v1h-1zM304 301h1v1h-1zM988 301h1v1h-1zM303 302h1v1h-1zM989 302h1v1h-1zM301 303h2v1h-2zM990 303h2v1h-2zM300 304h1v1h-1zM992 304h1v1h-1zM299 305h1v1h-1zM993 305h1v1h-1zM298 306h1v1h-1zM994 306h1v1h-1zM297 307h1v1h-1zM995 307h1v1h-1zM295 308h2v1h-2zM996 308h1v1h-1zM294 309h1v1h-1zM997 309h1v1h-1zM293 310h1v1h-1zM998 310h1v1h-1zM291 311h2v1h-2zM999 311h1v1h-1zM290 312h1v1h-1zM1000 312h1v1h-1zM288 313h2v1h-2zM1001 313h1v1h-1zM287 314h1v1h-1zM1002 314h1v1h-1zM1242 314h1v1h-1zM285 315h2v1h-2zM1003 315h1v1h-1zM1240 315h2v1h-2zM283 316h2v1h-2zM1004 316h1v1h-1zM1238 316h2v1h-2zM282 317h1v1h-1zM1005 317h1v1h-1zM1236 317h2v1h-2zM280 318h2v1h-2zM1006 318h1v2h-1zM1234 318h2v1h-2zM278 319h2v1h-2zM1232 319h2v1h-2zM276 320h2v1h-2zM1007 320h1v1h-1zM1231 320h1v1h-1zM274 321h2v1h-2zM1008 321h1v1h-1zM1229 321h2v1h-2zM272 322h2v1h-2zM1009 322h1v1h-1zM1227 322h2v1h-2zM271 323h1v1h-1zM1010 323h1v1h-1zM1226 323h1v1h-1zM269 324h2v1h-2zM1011 324h1v1h-1zM1224 324h2v1h-2zM267 325h2v1h-2zM1012 325h1v1h-1zM1223 325h1v1h-1zM266 326h1v1h-1zM1013 326h1v1h-1zM1221 326h2v1h-2zM265 327h1v1h-1zM1014 327h1v2h-1zM1219 327h2v1h-2zM264 328h1v1h-1zM1218 328h1v1h-1zM263 329h1v1h-1zM1015 329h1v1h-1zM1217 329h1v1h-1zM262 330h1v2h-1zM1016 330h1v1h-1zM1216 330h1v1h-1zM1017 331h1v1h-1zM1215 331h1v1h-1zM261 332h1v1h-1zM1018 332h1v1h-1zM1214 332h1v1h-1zM260 333h1v1h-1zM1019 333h1v1h-1zM1213 333h1v1h-1zM259 334h1v1h-1zM1020 334h1v1h-1zM1212 334h1v1h-1zM258 335h1v1h-1zM1021 335h1v1h-1zM1211 335h1v1h-1zM257 336h1v1h-1zM1022 336h1v2h-1zM1210 336h1v1h-1zM256 337h1v1h-1zM1208 337h2v1h-2zM255 338h1v1h-1zM1023 338h1v1h-1zM1207 338h1v1h-1zM254 339h1v2h-1zM1024 339h1v1h-1zM1205 339h2v1h-2zM1025 340h1v1h-1zM1203 340h2v1h-2zM253 341h1v1h-1zM1026 341h1v1h-1zM1202 341h1v1h-1zM252 342h1v1h-1zM1027 342h1v1h-1zM1200 342h2v1h-2zM251 343h1v1h-1zM1028 343h1v1h-1zM1199 343h1v1h-1zM250 344h1v1h-1zM1029 344h1v1h-1zM1197 344h2v1h-2zM249 345h1v2h-1zM1030 345h1v1h-1zM1195 345h2v1h-2zM1031 346h1v1h-1zM1193 346h2v1h-2zM248 347h1v1h-1zM1032 347h1v1h-1zM1191 347h2v1h-2zM247 348h1v1h-1zM1033 348h1v1h-1zM1188 348h3v1h-3zM246 349h1v2h-1zM1034 349h1v1h-1zM1186 349h2v1h-2zM1035 350h1v1h-1zM1184 350h2v1h-2zM245 351h1v1h-1zM1036 351h1v1h-1zM1182 351h2v1h-2zM244 352h1v1h-1zM1037 352h1v1h-1zM1180 352h2v1h-2zM243 353h1v2h-1zM1038 353h2v1h-2zM1178 353h2v1h-2zM1040 354h1v1h-1zM1176 354h2v1h-2zM242 355h1v1h-1zM1041 355h1v1h-1zM1174 355h2v1h-2zM241 356h1v2h-1zM1042 356h1v1h-1zM1172 356h2v1h-2zM1043 357h2v1h-2zM1169 357h3v1h-3zM240 358h1v1h-1zM1045 358h1v1h-1zM1165 358h4v1h-4zM239 359h1v1h-1zM1046 359h2v1h-2zM1161 359h4v1h-4zM238 360h1v2h-1zM1048 360h2v1h-2zM1157 360h4v1h-4zM1050 361h1v1h-1zM1154 361h3v1h-3zM237 362h1v1h-1zM1051 362h2v1h-2zM1152 362h2v1h-2zM236 363h1v1h-1zM1053 363h1v1h-1zM1150 363h2v1h-2zM235 364h1v2h-1zM1054 364h2v1h-2zM1148 364h2v1h-2zM1056 365h2v1h-2zM1145 365h3v1h-3zM234 366h1v1h-1zM1058 366h1v1h-1zM1141 366h4v1h-4zM233 367h1v2h-1zM1059 367h2v1h-2zM1135 367h6v1h-6zM1061 368h2v1h-2zM1127 368h8v1h-8zM232 369h1v1h-1zM1063 369h2v1h-2zM1119 369h8v1h-8zM231 370h1v1h-1zM1065 370h3v1h-3zM1105 370h14v1h-14zM230 371h1v2h-1zM1068 371h4v1h-4zM1101 371h4v1h-4zM1072 372h14v1h-14zM1095 372h6v1h-6zM229 373h1v1h-1zM1086 373h9v1h-9zM228 374h1v1h-1zM227 375h1v2h-1zM226 377h1v1h-1zM225 378h1v1h-1zM224 379h1v2h-1zM223 381h1v1h-1zM222 382h1v1h-1zM221 383h1v1h-1zM220 384h1v2h-1zM219 386h1v1h-1zM218 387h1v1h-1zM217 388h1v1h-1zM216 389h1v1h-1zM215 390h1v1h-1zM213 391h2v1h-2zM212 392h1v1h-1zM211 393h1v1h-1zM210 394h1v1h-1zM208 395h2v1h-2zM207 396h1v1h-1zM205 397h2v1h-2zM203 398h2v1h-2zM201 399h2v1h-2zM199 400h2v1h-2zM196 401h3v1h-3zM193 402h3v1h-3zM189 403h4v1h-4zM185 404h4v1h-4zM181 405h4v1h-4zM177 406h4v1h-4zM173 407h4v1h-4zM167 408h6v1h-6zM151 409h16v1h-16zM145 410h6v1h-6zM143 411h2v1h-2zM140 412h3v1h-3zM137 413h3v1h-3zM135 414h2v1h-2zM132 415h3v1h-3zM130 416h2v1h-2zM128 417h2v1h-2zM126 418h2v1h-2zM124 419h2v1h-2zM121 420h3v1h-3zM117 421h4v1h-4zM113 422h4v1h-4zM111 423h2v1h-2zM108 424h3v1h-3zM103 425h5v1h-5zM87 426h16v1h-16zM63 427h24v1h-24zM55 428h8v1h-8zM49 429h6v1h-6zM47 430h2v1h-2zM44 431h3v1h-3zM42 432h2v1h-2zM40 433h2v1h-2zM38 434h2v1h-2zM36 435h2v1h-2zM33 436h3v1h-3zM15 437h7v1h-7zM29 437h4v1h-4zM2 438h13v1h-13zM22 438h7v1h-7z"/>
</g>
<rect x="3" y="81" width="1576" height="1" fill="#ff4500"/>
<rect x="2" y="82" width="1577" height="1" fill="#ff4500"/>
<rect x="3" y="147" width="1576" height="1" fill="#ff4500"/>
<rect x="2" y="148" width="1577" height="1" fill="#ff4500"/>
<rect x="3" y="203" width="1576" height="1" fill="#ff0000"/>
<rect x="2" y="204" width="1577" height="1" fill="#ff0000"/>
<rect x="3" y="279" width="1576" height="1" fill="#00ff00"/>
<rect x="2" y="280" width="1577" height="1" fill="#00ff00"/>
<rect x="3" y="343" width="1576" height="1" fill="#0000ff"/>
<rect x="2" y="344" width="1577" height="1" fill="#0000ff"/>
<rect x="3" y="409" width="1576" height="1" fill="#0000ff"/>
<rect x="2" y="410" width="1577" height="1" fill="#0000ff"/>
<rect x="3" y="474" width="1576" height="1" fill="#0000ff"/>
<rect x="2" y="475" width="1577" height="1" fill="#0000ff"/>
<rect x="3" y="540" width="1576" height="1" fill="#0000ff"/>
<rect x="2" y="541" width="1577" height="1" fill="#0000ff"/>
<rect x="1" y="145" width="6" height="6" fill="#ff4500"/>
<rect x="3" y="147" width="2" height="2" fill="#fff"/>
<rect x="1572" y="145" width="6" height="6" fill="#ff4500"/>
<rect x="1574" y="147" width="2" height="2" fill="#fff"/>
<rect x="1" y="201" width="6" height="6" fill="#ff0000"/>
<rect x="3" y="203" width="2" height="2" fill="#fff"/>
<rect x="1572" y="201" width="6" height="6" fill="#ff0000"/>
<rect x="1574" y="203" width="2" height="2" fill="#fff"/>
<rect x="1" y="277" width="6" height="6" fill="#00ff00"/>
<rect x="3" y="279" width="2" height="2" fill="#fff"/>
<rect x="1572" y="277" width="6" height="6" fill="#00ff00"/>
<rect x="1574" y="279" width="2" height="2" fill="#fff"/>
<rect x="1" y="341" width="6" height="6" fill="#0000ff"/>
<rect x="3" y="343" width="2" height="2" fill="#fff"/>
<rect x="1572" y="341" width="6" height="6" fill="#0000ff"/>
<rect x="1574" y="343" width="2" height="2" fill="#fff"/>
<rect x="1" y="472" width="6" height="6" fill="#0000ff"/>
<rect x="3" y="474" width="2" height="2" fill="#fff"/>
<rect x="1572" y="472" width="6" height="6" fill="#0000ff"/>
<rect x="1574" y="474" width="2" height="2" fill="#fff"/>
<rect x="1" y="538" width="6" height="6" fill="#0000ff"/>
<rect x="3" y="540" width="2" height="2" fill="#fff"/>
<rect x="1572" y="538" width="6" height="6" fill="#0000ff"/>
<rect x="1574" y="540" width="2" height="2" fill="#fff"/>
<path d="M5 33 L12 33 L8.5 37 Z" fill="#000" shape-rendering="auto"/>
<text x="17" y="38" font-size="10" fill="#000" stroke="#000" stroke-width="0.15" textLength="64" lengthAdjust="spacingAndGlyphs">EURUSD,Daily</text>
<text x="87.2" y="38" font-size="10" fill="#000" stroke="#000" stroke-width="0.15" textLength="141" lengthAdjust="spacingAndGlyphs">1.20264 1.20347 1.20176 1.20219</text>
<rect x="1579" y="55" width="2" height="1" fill="#000"/>
<text x="1584.2" y="59" font-size="10" fill="#000" stroke="#000" stroke-width="0.15" textLength="33" lengthAdjust="spacingAndGlyphs">1.23440</text>
<rect x="1579" y="88" width="2" height="1" fill="#000"/>
<text x="1584.2" y="92" font-size="10" fill="#000" stroke="#000" stroke-width="0.15" textLength="33" lengthAdjust="spacingAndGlyphs">1.22930</text>
<rect x="1579" y="121" width="2" height="1" fill="#000"/>
<text x="1584.2" y="125" font-size="10" fill="#000" stroke="#000" stroke-width="0.15" textLength="33" lengthAdjust="spacingAndGlyphs">1.22435</text>
<rect x="1579" y="154" width="2" height="1" fill="#000"/>
<text x="1584.2" y="158" font-size="10" fill="#000" stroke="#000" stroke-width="0.15" textLength="33" lengthAdjust="spacingAndGlyphs">1.21925</text>
<rect x="1579" y="187" width="2" height="1" fill="#000"/>
<text x="1584.2" y="191" font-size="10" fill="#000" stroke="#000" stroke-width="0.15" textLength="33" lengthAdjust="spacingAndGlyphs">1.21415</text>
<rect x="1579" y="220" width="2" height="1" fill="#000"/>
<text x="1584.2" y="224" font-size="10" fill="#000" stroke="#000" stroke-width="0.15" textLength="33" lengthAdjust="spacingAndGlyphs">1.20905</text>
<rect x="1579" y="253" width="2" height="1" fill="#000"/>
<text x="1584.2" y="257" font-size="10" fill="#000" stroke="#000" stroke-width="0.15" textLength="33" lengthAdjust="spacingAndGlyphs">1.20410</text>
<rect x="1579" y="286" width="2" height="1" fill="#000"/>
<text x="1584.2" y="290" font-size="10" fill="#000" stroke="#000" stroke-width="0.15" textLength="33" lengthAdjust="spacingAndGlyphs">1.19900</text>
<rect x="1579" y="319" width="2" height="1" fill="#000"/>
<text x="1584.2" y="323" font-size="10" fill="#000" stroke="#000" stroke-width="0.15" textLength="33" lengthAdjust="spacingAndGlyphs">1.19390</text>
<rect x="1579" y="352" width="2" height="1" fill="#000"/>
<text x="1584.2" y="356" font-size="10" fill="#000" stroke="#000" stroke-width="0.15" textLength="33" lengthAdjust="spacingAndGlyphs">1.18895</text>
<rect x="1579" y="385" width="2" height="1" fill="#000"/>
<text x="1584.2" y="389" font-size="10" fill="#000" stroke="#000" stroke-width="0.15" textLength="33" lengthAdjust="spacingAndGlyphs">1.18385</text>
<rect x="1579" y="418" width="2" height="1" fill="#000"/>
<text x="1584.2" y="422" font-size="10" fill="#000" stroke="#000" stroke-width="0.15" textLength="33" lengthAdjust="spacingAndGlyphs">1.17875</text>
<rect x="1579" y="451" width="2" height="1" fill="#000"/>
<text x="1584.2" y="455" font-size="10" fill="#000" stroke="#000" stroke-width="0.15" textLength="33" lengthAdjust="spacingAndGlyphs">1.17380</text>
<rect x="1579" y="484" width="2" height="1" fill="#000"/>
<text x="1584.2" y="488" font-size="10" fill="#000" stroke="#000" stroke-width="0.15" textLength="33" lengthAdjust="spacingAndGlyphs">1.16870</text>
<rect x="1579" y="517" width="2" height="1" fill="#000"/>
<text x="1584.2" y="521" font-size="10" fill="#000" stroke="#000" stroke-width="0.15" textLength="33" lengthAdjust="spacingAndGlyphs">1.16360</text>
<rect x="1579" y="550" width="2" height="1" fill="#000"/>
<text x="1584.2" y="554" font-size="10" fill="#000" stroke="#000" stroke-width="0.15" textLength="33" lengthAdjust="spacingAndGlyphs">1.15865</text>
<rect x="1580" y="76" width="40" height="11" fill="#ff4500"/>
<text x="1584.2" y="85" font-size="10" fill="#fff" stroke="#fff" stroke-width="0.15" textLength="33" lengthAdjust="spacingAndGlyphs">1.23019</text>
<rect x="1580" y="142" width="40" height="11" fill="#ff4500"/>
<text x="1584.2" y="151" font-size="10" fill="#fff" stroke="#fff" stroke-width="0.15" textLength="33" lengthAdjust="spacingAndGlyphs">1.22010</text>
<rect x="1580" y="198" width="40" height="11" fill="#ff0000"/>
<text x="1584.2" y="207" font-size="10" fill="#fff" stroke="#fff" stroke-width="0.15" textLength="33" lengthAdjust="spacingAndGlyphs">1.21155</text>
<rect x="1580" y="274" width="40" height="11" fill="#00ff00"/>
<text x="1584.2" y="283" font-size="10" fill="#fff" stroke="#fff" stroke-width="0.15" textLength="33" lengthAdjust="spacingAndGlyphs">1.19992</text>
<rect x="1580" y="338" width="40" height="11" fill="#0000ff"/>
<text x="1584.2" y="347" font-size="10" fill="#fff" stroke="#fff" stroke-width="0.15" textLength="33" lengthAdjust="spacingAndGlyphs">1.19015</text>
<rect x="1580" y="404" width="40" height="11" fill="#0000ff"/>
<text x="1584.2" y="413" font-size="10" fill="#fff" stroke="#fff" stroke-width="0.15" textLength="33" lengthAdjust="spacingAndGlyphs">1.17998</text>
<rect x="1580" y="469" width="40" height="11" fill="#0000ff"/>
<text x="1584.2" y="478" font-size="10" fill="#fff" stroke="#fff" stroke-width="0.15" textLength="33" lengthAdjust="spacingAndGlyphs">1.17012</text>
<rect x="1580" y="535" width="40" height="11" fill="#0000ff"/>
<text x="1584.2" y="544" font-size="10" fill="#fff" stroke="#fff" stroke-width="0.15" textLength="33" lengthAdjust="spacingAndGlyphs">1.16003</text>
<rect x="1580" y="260" width="40" height="11" fill="#000"/>
<text x="1584.2" y="269" font-size="10" fill="#fff" stroke="#fff" stroke-width="0.15" textLength="33" lengthAdjust="spacingAndGlyphs">1.20219</text>
<g clip-path="url(#cr)">
<line x1="3" y1="585.5" x2="1578" y2="585.5" stroke="#c0c0c0" stroke-width="1" stroke-dasharray="3 3"/>
<line x1="3" y1="622.5" x2="1578" y2="622.5" stroke="#c0c0c0" stroke-width="1" stroke-dasharray="3 3"/>
<path fill="#1e90ff" d="M226 577h2v1h-2zM224 578h2v1h-2zM228 578h2v1h-2zM222 579h2v1h-2zM230 579h3v1h-3zM220 580h2v1h-2zM233 580h5v1h-5zM322 580h4v1h-4zM218 581h2v1h-2zM238 581h13v1h-13zM320 581h2v1h-2zM326 581h13v1h-13zM402 581h1v1h-1zM216 582h2v1h-2zM251 582h2v1h-2zM318 582h2v1h-2zM339 582h2v1h-2zM400 582h2v1h-2zM403 582h1v2h-1zM214 583h2v1h-2zM253 583h2v1h-2zM316 583h2v1h-2zM341 583h1v1h-1zM399 583h1v1h-1zM212 584h2v1h-2zM255 584h2v1h-2zM313 584h3v1h-3zM342 584h2v1h-2zM397 584h2v1h-2zM404 584h1v1h-1zM1185 584h3v1h-3zM1217 584h2v1h-2zM210 585h2v1h-2zM257 585h2v1h-2zM309 585h4v1h-4zM344 585h2v1h-2zM395 585h2v1h-2zM405 585h1v1h-1zM1151 585h5v1h-5zM1181 585h4v1h-4zM1188 585h4v1h-4zM1213 585h4v1h-4zM1219 585h1v2h-1zM208 586h2v1h-2zM259 586h2v1h-2zM274 586h1v1h-1zM305 586h4v1h-4zM346 586h1v1h-1zM393 586h2v1h-2zM406 586h1v2h-1zM1146 586h5v1h-5zM1156 586h2v1h-2zM1178 586h3v1h-3zM1192 586h4v1h-4zM1209 586h4v1h-4zM207 587h1v1h-1zM261 587h1v1h-1zM272 587h2v1h-2zM275 587h2v1h-2zM301 587h4v1h-4zM347 587h1v1h-1zM391 587h2v1h-2zM1144 587h2v1h-2zM1158 587h3v1h-3zM1176 587h2v1h-2zM1196 587h4v1h-4zM1205 587h4v1h-4zM1220 587h1v2h-1zM205 588h2v1h-2zM262 588h2v1h-2zM270 588h2v1h-2zM277 588h1v1h-1zM295 588h6v1h-6zM348 588h1v1h-1zM388 588h3v1h-3zM407 588h1v1h-1zM1143 588h1v1h-1zM1161 588h3v1h-3zM1175 588h1v1h-1zM1200 588h5v1h-5zM203 589h2v1h-2zM264 589h2v1h-2zM268 589h2v1h-2zM278 589h2v1h-2zM289 589h6v1h-6zM349 589h1v1h-1zM385 589h3v1h-3zM408 589h1v1h-1zM441 589h2v1h-2zM1141 589h2v1h-2zM1164 589h2v1h-2zM1173 589h2v1h-2zM1221 589h1v2h-1zM191 590h12v1h-12zM266 590h2v1h-2zM280 590h2v1h-2zM285 590h4v1h-4zM350 590h1v1h-1zM383 590h2v1h-2zM409 590h1v2h-1zM437 590h4v1h-4zM443 590h2v1h-2zM1139 590h2v1h-2zM1166 590h3v1h-3zM1171 590h2v1h-2zM185 591h6v1h-6zM282 591h3v1h-3zM351 591h1v1h-1zM380 591h3v1h-3zM426 591h11v1h-11zM445 591h2v1h-2zM1114 591h2v1h-2zM1129 591h10v1h-10zM1169 591h2v1h-2zM1222 591h1v1h-1zM183 592h2v1h-2zM352 592h1v1h-1zM361 592h19v1h-19zM410 592h2v1h-2zM424 592h2v1h-2zM447 592h2v1h-2zM1112 592h2v1h-2zM1116 592h2v1h-2zM1127 592h2v1h-2zM1223 592h1v2h-1zM49 593h2v1h-2zM180 593h3v1h-3zM353 593h1v1h-1zM357 593h4v1h-4zM412 593h2v1h-2zM422 593h2v1h-2zM449 593h5v1h-5zM1110 593h2v1h-2zM1118 593h3v1h-3zM1124 593h3v1h-3zM45 594h4v1h-4zM51 594h1v1h-1zM170 594h10v1h-10zM354 594h3v1h-3zM414 594h3v1h-3zM420 594h2v1h-2zM454 594h5v1h-5zM786 594h1v1h-1zM1108 594h2v1h-2zM1121 594h3v1h-3zM1224 594h1v2h-1zM41 595h4v1h-4zM52 595h2v1h-2zM114 595h9v1h-9zM168 595h2v1h-2zM417 595h3v1h-3zM459 595h1v1h-1zM785 595h1v1h-1zM787 595h1v1h-1zM1105 595h3v1h-3zM39 596h2v1h-2zM54 596h1v1h-1zM112 596h2v1h-2zM123 596h2v1h-2zM166 596h2v1h-2zM460 596h2v1h-2zM784 596h1v1h-1zM788 596h1v1h-1zM1103 596h2v1h-2zM1225 596h1v2h-1zM36 597h3v1h-3zM55 597h1v1h-1zM110 597h2v1h-2zM125 597h2v1h-2zM164 597h2v1h-2zM462 597h1v1h-1zM783 597h1v1h-1zM789 597h1v1h-1zM1100 597h3v1h-3zM34 598h2v1h-2zM56 598h2v1h-2zM108 598h2v1h-2zM127 598h2v1h-2zM135 598h12v1h-12zM162 598h2v1h-2zM463 598h1v1h-1zM769 598h2v1h-2zM782 598h1v1h-1zM790 598h1v1h-1zM1095 598h5v1h-5zM1226 598h2v1h-2zM33 599h1v1h-1zM58 599h9v1h-9zM95 599h13v1h-13zM129 599h6v1h-6zM147 599h2v1h-2zM160 599h2v1h-2zM464 599h2v1h-2zM765 599h4v1h-4zM771 599h2v1h-2zM781 599h1v1h-1zM791 599h1v1h-1zM1071 599h7v1h-7zM1087 599h8v1h-8zM1228 599h4v1h-4zM1239 599h4v1h-4zM32 600h1v2h-1zM67 600h1v1h-1zM89 600h6v1h-6zM149 600h1v1h-1zM159 600h1v1h-1zM466 600h1v1h-1zM682 600h10v1h-10zM713 600h3v1h-3zM761 600h4v1h-4zM773 600h2v1h-2zM780 600h1v1h-1zM792 600h1v1h-1zM1066 600h5v1h-5zM1078 600h9v1h-9zM1232 600h7v1h-7zM68 601h2v1h-2zM85 601h4v1h-4zM150 601h2v1h-2zM157 601h2v1h-2zM467 601h1v1h-1zM680 601h2v1h-2zM692 601h4v1h-4zM709 601h4v1h-4zM716 601h4v1h-4zM757 601h4v1h-4zM775 601h2v1h-2zM779 601h1v1h-1zM793 601h1v1h-1zM1064 601h2v1h-2zM31 602h1v1h-1zM70 602h1v1h-1zM81 602h4v1h-4zM152 602h2v1h-2zM155 602h2v1h-2zM468 602h1v1h-1zM553 602h10v1h-10zM578 602h1v1h-1zM678 602h2v1h-2zM696 602h13v1h-13zM720 602h3v1h-3zM746 602h11v1h-11zM777 602h2v1h-2zM794 602h1v1h-1zM1063 602h1v1h-1zM30 603h1v1h-1zM71 603h1v1h-1zM79 603h2v1h-2zM154 603h1v1h-1zM469 603h1v1h-1zM551 603h2v1h-2zM563 603h1v1h-1zM577 603h1v1h-1zM579 603h1v1h-1zM601 603h3v1h-3zM676 603h2v1h-2zM723 603h1v1h-1zM745 603h1v1h-1zM795 603h1v1h-1zM1061 603h2v1h-2zM29 604h1v1h-1zM72 604h2v1h-2zM76 604h3v1h-3zM470 604h1v1h-1zM548 604h3v1h-3zM564 604h2v1h-2zM575 604h2v1h-2zM580 604h1v1h-1zM599 604h2v1h-2zM604 604h4v1h-4zM674 604h2v1h-2zM724 604h1v2h-1zM743 604h2v1h-2zM796 604h2v1h-2zM1059 604h2v1h-2zM18 605h2v1h-2zM28 605h1v2h-1zM74 605h2v1h-2zM471 605h1v1h-1zM546 605h2v1h-2zM566 605h1v1h-1zM574 605h1v1h-1zM581 605h1v1h-1zM596 605h3v1h-3zM608 605h3v1h-3zM673 605h1v1h-1zM742 605h1v1h-1zM798 605h1v1h-1zM1058 605h1v1h-1zM17 606h1v2h-1zM20 606h2v1h-2zM472 606h1v1h-1zM545 606h1v1h-1zM567 606h1v1h-1zM573 606h1v1h-1zM582 606h1v1h-1zM594 606h2v1h-2zM611 606h1v1h-1zM671 606h2v1h-2zM725 606h1v1h-1zM741 606h1v1h-1zM799 606h1v1h-1zM1056 606h2v1h-2zM22 607h3v1h-3zM27 607h1v1h-1zM473 607h1v1h-1zM543 607h2v1h-2zM568 607h2v1h-2zM571 607h2v1h-2zM583 607h1v1h-1zM592 607h2v1h-2zM612 607h2v1h-2zM670 607h1v1h-1zM726 607h1v1h-1zM739 607h2v1h-2zM800 607h2v1h-2zM1055 607h1v1h-1zM16 608h1v1h-1zM25 608h2v1h-2zM474 608h20v1h-20zM530 608h2v1h-2zM542 608h1v1h-1zM570 608h1v1h-1zM584 608h1v1h-1zM590 608h2v1h-2zM614 608h1v1h-1zM669 608h1v1h-1zM727 608h1v1h-1zM738 608h1v1h-1zM802 608h4v1h-4zM815 608h13v1h-13zM1053 608h2v1h-2zM15 609h1v1h-1zM494 609h5v1h-5zM529 609h1v1h-1zM532 609h2v1h-2zM541 609h1v1h-1zM585 609h1v1h-1zM588 609h2v1h-2zM615 609h1v1h-1zM667 609h2v1h-2zM728 609h1v2h-1zM736 609h2v1h-2zM806 609h9v1h-9zM828 609h2v1h-2zM953 609h2v1h-2zM1051 609h2v1h-2zM14 610h1v2h-1zM499 610h2v1h-2zM528 610h1v1h-1zM534 610h3v1h-3zM539 610h2v1h-2zM586 610h2v1h-2zM616 610h2v1h-2zM663 610h4v1h-4zM734 610h2v1h-2zM830 610h3v1h-3zM951 610h2v1h-2zM955 610h1v1h-1zM1050 610h1v1h-1zM501 611h1v1h-1zM527 611h1v1h-1zM537 611h2v1h-2zM618 611h1v1h-1zM657 611h6v1h-6zM729 611h1v1h-1zM732 611h2v1h-2zM833 611h2v1h-2zM882 611h4v1h-4zM895 611h5v1h-5zM948 611h3v1h-3zM956 611h1v1h-1zM1049 611h1v1h-1zM13 612h1v1h-1zM502 612h2v1h-2zM526 612h1v1h-1zM619 612h2v1h-2zM655 612h2v1h-2zM730 612h2v1h-2zM835 612h1v1h-1zM881 612h1v1h-1zM886 612h9v1h-9zM900 612h4v1h-4zM929 612h19v1h-19zM957 612h1v1h-1zM1048 612h1v1h-1zM12 613h1v1h-1zM504 613h2v1h-2zM525 613h1v1h-1zM621 613h1v1h-1zM652 613h3v1h-3zM836 613h1v1h-1zM879 613h2v1h-2zM904 613h4v1h-4zM925 613h4v1h-4zM958 613h2v1h-2zM1047 613h1v1h-1zM11 614h1v2h-1zM506 614h2v1h-2zM524 614h1v1h-1zM622 614h2v1h-2zM650 614h2v1h-2zM837 614h1v1h-1zM878 614h1v1h-1zM908 614h2v1h-2zM921 614h4v1h-4zM960 614h1v1h-1zM1046 614h1v1h-1zM2 615h4v1h-4zM508 615h4v1h-4zM523 615h1v1h-1zM624 615h2v1h-2zM648 615h2v1h-2zM838 615h1v1h-1zM877 615h1v1h-1zM910 615h3v1h-3zM917 615h4v1h-4zM961 615h1v1h-1zM1045 615h1v1h-1zM6 616h5v1h-5zM512 616h11v1h-11zM626 616h4v1h-4zM647 616h1v1h-1zM839 616h1v1h-1zM875 616h2v1h-2zM913 616h4v1h-4zM962 616h2v1h-2zM1031 616h5v1h-5zM1044 616h1v1h-1zM630 617h6v1h-6zM645 617h2v1h-2zM840 617h1v1h-1zM871 617h4v1h-4zM964 617h2v1h-2zM1026 617h5v1h-5zM1036 617h4v1h-4zM1043 617h1v1h-1zM636 618h4v1h-4zM643 618h2v1h-2zM841 618h1v1h-1zM847 618h4v1h-4zM866 618h5v1h-5zM966 618h3v1h-3zM1024 618h2v1h-2zM1040 618h3v1h-3zM640 619h3v1h-3zM842 619h5v1h-5zM851 619h2v1h-2zM864 619h2v1h-2zM969 619h3v1h-3zM985 619h13v1h-13zM1023 619h1v1h-1zM853 620h2v1h-2zM862 620h2v1h-2zM972 620h2v1h-2zM983 620h2v1h-2zM998 620h5v1h-5zM1021 620h2v1h-2zM855 621h2v1h-2zM860 621h2v1h-2zM974 621h3v1h-3zM980 621h3v1h-3zM1003 621h2v1h-2zM1019 621h2v1h-2zM857 622h3v1h-3zM977 622h3v1h-3zM1005 622h2v1h-2zM1017 622h2v1h-2zM1007 623h2v1h-2zM1013 623h4v1h-4zM1009 624h4v1h-4z"/>
</g>
<text x="5.8" y="568" font-size="10" fill="#000" stroke="#000" stroke-width="0.15" textLength="68.5" lengthAdjust="spacingAndGlyphs">RSI(14) 54.2582</text>
<rect x="1579" y="557" width="1" height="1" fill="#000"/>
<rect x="1579" y="650" width="1" height="1" fill="#000"/>
<text x="1581.8" y="566" font-size="10" fill="#000" stroke="#000" stroke-width="0.15" textLength="15.2" lengthAdjust="spacingAndGlyphs">100</text>
<text x="1581.8" y="589" font-size="10" fill="#000" stroke="#000" stroke-width="0.15" textLength="10" lengthAdjust="spacingAndGlyphs">70</text>
<text x="1581.8" y="626" font-size="10" fill="#000" stroke="#000" stroke-width="0.15" textLength="10" lengthAdjust="spacingAndGlyphs">30</text>
<text x="1581.8" y="648" font-size="10" fill="#000" stroke="#000" stroke-width="0.15" textLength="5.6" lengthAdjust="spacingAndGlyphs">0</text>
<g clip-path="url(#cd)">
<rect x="2" y="706" width="1" height="10" fill="#c0c0c0"/>
<rect x="10" y="706" width="1" height="14" fill="#c0c0c0"/>
<rect x="18" y="706" width="1" height="12" fill="#c0c0c0"/>
<rect x="26" y="706" width="1" height="12" fill="#c0c0c0"/>
<rect x="34" y="706" width="1" height="6" fill="#c0c0c0"/>
<rect x="50" y="702" width="1" height="5" fill="#c0c0c0"/>
<rect x="58" y="700" width="1" height="7" fill="#c0c0c0"/>
<rect x="66" y="699" width="1" height="8" fill="#c0c0c0"/>
<rect x="74" y="701" width="1" height="6" fill="#c0c0c0"/>
<rect x="82" y="701" width="1" height="6" fill="#c0c0c0"/>
<rect x="90" y="700" width="1" height="7" fill="#c0c0c0"/>
<rect x="98" y="699" width="1" height="8" fill="#c0c0c0"/>
<rect x="106" y="698" width="1" height="9" fill="#c0c0c0"/>
<rect x="114" y="696" width="1" height="11" fill="#c0c0c0"/>
<rect x="122" y="694" width="1" height="13" fill="#c0c0c0"/>
<rect x="130" y="694" width="1" height="13" fill="#c0c0c0"/>
<rect x="138" y="694" width="1" height="13" fill="#c0c0c0"/>
<rect x="146" y="694" width="1" height="13" fill="#c0c0c0"/>
<rect x="154" y="695" width="1" height="12" fill="#c0c0c0"/>
<rect x="162" y="695" width="1" height="12" fill="#c0c0c0"/>
<rect x="170" y="693" width="1" height="14" fill="#c0c0c0"/>
<rect x="178" y="692" width="1" height="15" fill="#c0c0c0"/>
<rect x="186" y="689" width="1" height="18" fill="#c0c0c0"/>
<rect x="194" y="687" width="1" height="20" fill="#c0c0c0"/>
<rect x="202" y="685" width="1" height="22" fill="#c0c0c0"/>
<rect x="210" y="680" width="1" height="27" fill="#c0c0c0"/>
<rect x="218" y="675" width="1" height="32" fill="#c0c0c0"/>
<rect x="226" y="668" width="1" height="39" fill="#c0c0c0"/>
<rect x="234" y="664" width="1" height="43" fill="#c0c0c0"/>
<rect x="242" y="661" width="1" height="46" fill="#c0c0c0"/>
<rect x="250" y="660" width="1" height="47" fill="#c0c0c0"/>
<rect x="258" y="660" width="1" height="47" fill="#c0c0c0"/>
<rect x="266" y="662" width="1" height="45" fill="#c0c0c0"/>
<rect x="274" y="662" width="1" height="45" fill="#c0c0c0"/>
<rect x="282" y="664" width="1" height="43" fill="#c0c0c0"/>
<rect x="290" y="665" width="1" height="42" fill="#c0c0c0"/>
<rect x="298" y="666" width="1" height="41" fill="#c0c0c0"/>
<rect x="306" y="666" width="1" height="41" fill="#c0c0c0"/>
<rect x="314" y="665" width="1" height="42" fill="#c0c0c0"/>
<rect x="322" y="663" width="1" height="44" fill="#c0c0c0"/>
<rect x="330" y="661" width="1" height="46" fill="#c0c0c0"/>
<rect x="338" y="661" width="1" height="46" fill="#c0c0c0"/>
<rect x="346" y="662" width="1" height="45" fill="#c0c0c0"/>
<rect x="354" y="665" width="1" height="42" fill="#c0c0c0"/>
<rect x="362" y="668" width="1" height="39" fill="#c0c0c0"/>
<rect x="370" y="670" width="1" height="37" fill="#c0c0c0"/>
<rect x="378" y="673" width="1" height="34" fill="#c0c0c0"/>
<rect x="386" y="673" width="1" height="34" fill="#c0c0c0"/>
<rect x="394" y="673" width="1" height="34" fill="#c0c0c0"/>
<rect x="402" y="671" width="1" height="36" fill="#c0c0c0"/>
<rect x="410" y="672" width="1" height="35" fill="#c0c0c0"/>
<rect x="418" y="675" width="1" height="32" fill="#c0c0c0"/>
<rect x="426" y="675" width="1" height="32" fill="#c0c0c0"/>
<rect x="434" y="675" width="1" height="32" fill="#c0c0c0"/>
<rect x="442" y="675" width="1" height="32" fill="#c0c0c0"/>
<rect x="450" y="676" width="1" height="31" fill="#c0c0c0"/>
<rect x="458" y="678" width="1" height="29" fill="#c0c0c0"/>
<rect x="466" y="681" width="1" height="26" fill="#c0c0c0"/>
<rect x="474" y="687" width="1" height="20" fill="#c0c0c0"/>
<rect x="482" y="692" width="1" height="15" fill="#c0c0c0"/>
<rect x="490" y="695" width="1" height="12" fill="#c0c0c0"/>
<rect x="498" y="699" width="1" height="8" fill="#c0c0c0"/>
<rect x="506" y="704" width="1" height="3" fill="#c0c0c0"/>
<rect x="514" y="706" width="1" height="2" fill="#c0c0c0"/>
<rect x="522" y="706" width="1" height="6" fill="#c0c0c0"/>
<rect x="530" y="706" width="1" height="6" fill="#c0c0c0"/>
<rect x="538" y="706" width="1" height="8" fill="#c0c0c0"/>
<rect x="546" y="706" width="1" height="7" fill="#c0c0c0"/>
<rect x="554" y="706" width="1" height="5" fill="#c0c0c0"/>
<rect x="562" y="706" width="1" height="4" fill="#c0c0c0"/>
<rect x="570" y="706" width="1" height="4" fill="#c0c0c0"/>
<rect x="578" y="706" width="1" height="3" fill="#c0c0c0"/>
<rect x="586" y="706" width="1" height="5" fill="#c0c0c0"/>
<rect x="594" y="706" width="1" height="6" fill="#c0c0c0"/>
<rect x="602" y="706" width="1" height="6" fill="#c0c0c0"/>
<rect x="610" y="706" width="1" height="6" fill="#c0c0c0"/>
<rect x="618" y="706" width="1" height="7" fill="#c0c0c0"/>
<rect x="626" y="706" width="1" height="11" fill="#c0c0c0"/>
<rect x="634" y="706" width="1" height="15" fill="#c0c0c0"/>
<rect x="642" y="706" width="1" height="19" fill="#c0c0c0"/>
<rect x="650" y="706" width="1" height="20" fill="#c0c0c0"/>
<rect x="658" y="706" width="1" height="19" fill="#c0c0c0"/>
<rect x="666" y="706" width="1" height="19" fill="#c0c0c0"/>
<rect x="674" y="706" width="1" height="16" fill="#c0c0c0"/>
<rect x="682" y="706" width="1" height="12" fill="#c0c0c0"/>
<rect x="690" y="706" width="1" height="9" fill="#c0c0c0"/>
<rect x="698" y="706" width="1" height="7" fill="#c0c0c0"/>
<rect x="706" y="706" width="1" height="5" fill="#c0c0c0"/>
<rect x="714" y="706" width="1" height="3" fill="#c0c0c0"/>
<rect x="722" y="706" width="1" height="2" fill="#c0c0c0"/>
<rect x="730" y="706" width="1" height="5" fill="#c0c0c0"/>
<rect x="738" y="706" width="1" height="6" fill="#c0c0c0"/>
<rect x="746" y="706" width="1" height="4" fill="#c0c0c0"/>
<rect x="754" y="706" width="1" height="3" fill="#c0c0c0"/>
<rect x="762" y="706" width="1" height="1" fill="#c0c0c0"/>
<rect x="770" y="705" width="1" height="2" fill="#c0c0c0"/>
<rect x="778" y="705" width="1" height="2" fill="#c0c0c0"/>
<rect x="786" y="700" width="1" height="7" fill="#c0c0c0"/>
<rect x="794" y="701" width="1" height="6" fill="#c0c0c0"/>
<rect x="802" y="703" width="1" height="4" fill="#c0c0c0"/>
<rect x="818" y="706" width="1" height="2" fill="#c0c0c0"/>
<rect x="826" y="706" width="1" height="3" fill="#c0c0c0"/>
<rect x="834" y="706" width="1" height="6" fill="#c0c0c0"/>
<rect x="842" y="706" width="1" height="13" fill="#c0c0c0"/>
<rect x="850" y="706" width="1" height="19" fill="#c0c0c0"/>
<rect x="858" y="706" width="1" height="25" fill="#c0c0c0"/>
<rect x="866" y="706" width="1" height="29" fill="#c0c0c0"/>
<rect x="874" y="706" width="1" height="31" fill="#c0c0c0"/>
<rect x="882" y="706" width="1" height="30" fill="#c0c0c0"/>
<rect x="890" y="706" width="1" height="29" fill="#c0c0c0"/>
<rect x="898" y="706" width="1" height="28" fill="#c0c0c0"/>
<rect x="906" y="706" width="1" height="28" fill="#c0c0c0"/>
<rect x="914" y="706" width="1" height="29" fill="#c0c0c0"/>
<rect x="922" y="706" width="1" height="28" fill="#c0c0c0"/>
<rect x="930" y="706" width="1" height="27" fill="#c0c0c0"/>
<rect x="938" y="706" width="1" height="26" fill="#c0c0c0"/>
<rect x="946" y="706" width="1" height="25" fill="#c0c0c0"/>
<rect x="954" y="706" width="1" height="24" fill="#c0c0c0"/>
<rect x="962" y="706" width="1" height="24" fill="#c0c0c0"/>
<rect x="970" y="706" width="1" height="26" fill="#c0c0c0"/>
<rect x="978" y="706" width="1" height="30" fill="#c0c0c0"/>
<rect x="986" y="706" width="1" height="32" fill="#c0c0c0"/>
<rect x="994" y="706" width="1" height="33" fill="#c0c0c0"/>
<rect x="1002" y="706" width="1" height="34" fill="#c0c0c0"/>
<rect x="1010" y="706" width="1" height="37" fill="#c0c0c0"/>
<rect x="1018" y="706" width="1" height="38" fill="#c0c0c0"/>
<rect x="1026" y="706" width="1" height="37" fill="#c0c0c0"/>
<rect x="1034" y="706" width="1" height="35" fill="#c0c0c0"/>
<rect x="1042" y="706" width="1" height="35" fill="#c0c0c0"/>
<rect x="1050" y="706" width="1" height="32" fill="#c0c0c0"/>
<rect x="1058" y="706" width="1" height="27" fill="#c0c0c0"/>
<rect x="1066" y="706" width="1" height="22" fill="#c0c0c0"/>
<rect x="1074" y="706" width="1" height="17" fill="#c0c0c0"/>
<rect x="1082" y="706" width="1" height="13" fill="#c0c0c0"/>
<rect x="1090" y="706" width="1" height="9" fill="#c0c0c0"/>
<rect x="1098" y="706" width="1" height="6" fill="#c0c0c0"/>
<rect x="1106" y="706" width="1" height="2" fill="#c0c0c0"/>
<rect x="1114" y="705" width="1" height="2" fill="#c0c0c0"/>
<rect x="1122" y="702" width="1" height="5" fill="#c0c0c0"/>
<rect x="1130" y="698" width="1" height="9" fill="#c0c0c0"/>
<rect x="1138" y="696" width="1" height="11" fill="#c0c0c0"/>
<rect x="1146" y="692" width="1" height="15" fill="#c0c0c0"/>
<rect x="1154" y="689" width="1" height="18" fill="#c0c0c0"/>
<rect x="1162" y="687" width="1" height="20" fill="#c0c0c0"/>
<rect x="1170" y="686" width="1" height="21" fill="#c0c0c0"/>
<rect x="1178" y="684" width="1" height="23" fill="#c0c0c0"/>
<rect x="1186" y="681" width="1" height="26" fill="#c0c0c0"/>
<rect x="1194" y="680" width="1" height="27" fill="#c0c0c0"/>
<rect x="1202" y="679" width="1" height="28" fill="#c0c0c0"/>
<rect x="1210" y="678" width="1" height="29" fill="#c0c0c0"/>
<rect x="1218" y="677" width="1" height="30" fill="#c0c0c0"/>
<rect x="1226" y="680" width="1" height="27" fill="#c0c0c0"/>
<rect x="1234" y="683" width="1" height="24" fill="#c0c0c0"/>
<rect x="1242" y="686" width="1" height="21" fill="#c0c0c0"/>
<path fill="#ff0000" d="M290 662h3v1h-3zM296 662h3v1h-3zM302 662h3v1h-3zM308 662h3v1h-3zM314 662h3v1h-3zM285 663h2v1h-2zM320 663h3v1h-3zM326 663h3v1h-3zM332 663h3v1h-3zM338 663h3v1h-3zM344 663h3v1h-3zM350 663h3v1h-3zM356 663h3v1h-3zM362 663h3v1h-3zM279 664h2v1h-2zM284 664h1v1h-1zM368 664h3v1h-3zM374 664h3v1h-3zM380 664h2v1h-2zM273 665h2v1h-2zM278 665h1v1h-1zM382 665h1v1h-1zM386 665h3v1h-3zM272 666h1v1h-1zM392 666h3v1h-3zM266 667h3v1h-3zM398 667h3v1h-3zM404 668h3v1h-3zM260 669h3v1h-3zM410 669h3v1h-3zM416 670h3v1h-3zM256 671h1v1h-1zM422 671h3v1h-3zM428 671h2v1h-2zM254 672h2v1h-2zM430 672h1v1h-1zM434 672h3v1h-3zM440 673h3v1h-3zM446 673h3v1h-3zM452 673h3v1h-3zM458 673h3v1h-3zM249 674h2v1h-2zM464 674h3v1h-3zM248 675h1v1h-1zM470 675h2v1h-2zM244 676h1v1h-1zM472 676h1v1h-1zM242 677h2v1h-2zM476 677h3v1h-3zM482 678h2v1h-2zM238 679h1v1h-1zM484 679h1v1h-1zM236 680h2v1h-2zM488 680h1v1h-1zM1232 680h3v1h-3zM1238 680h3v1h-3zM489 681h2v1h-2zM1226 681h3v1h-3zM232 682h1v1h-1zM494 682h2v1h-2zM1220 682h3v1h-3zM230 683h2v1h-2zM496 683h1v1h-1zM1214 683h3v1h-3zM500 684h1v1h-1zM1208 684h3v1h-3zM225 685h2v1h-2zM501 685h1v1h-1zM1202 685h3v1h-3zM224 686h1v1h-1zM502 686h1v1h-1zM220 687h1v1h-1zM1196 687h3v1h-3zM218 688h2v1h-2zM506 688h2v1h-2zM207 689h2v1h-2zM212 689h3v1h-3zM508 689h1v1h-1zM1190 689h3v1h-3zM201 690h2v1h-2zM206 690h1v1h-1zM512 690h3v1h-3zM1185 690h2v1h-2zM200 691h1v1h-1zM1184 691h1v1h-1zM183 692h2v1h-2zM188 692h3v1h-3zM194 692h3v1h-3zM518 692h1v1h-1zM1178 692h3v1h-3zM176 693h3v1h-3zM182 693h1v1h-1zM519 693h2v1h-2zM170 694h3v1h-3zM1174 694h1v1h-1zM159 695h2v1h-2zM164 695h3v1h-3zM524 695h1v1h-1zM1172 695h2v1h-2zM135 696h2v1h-2zM140 696h3v1h-3zM146 696h3v1h-3zM152 696h3v1h-3zM158 696h1v1h-1zM525 696h2v1h-2zM128 697h3v1h-3zM134 697h1v1h-1zM1167 697h2v1h-2zM122 698h3v1h-3zM530 698h1v1h-1zM1166 698h1v1h-1zM111 699h2v1h-2zM116 699h3v1h-3zM531 699h2v1h-2zM1161 699h2v1h-2zM105 700h2v1h-2zM110 700h1v1h-1zM1160 700h1v1h-1zM2 701h2v1h-2zM104 701h1v1h-1zM536 701h1v1h-1zM1156 701h1v1h-1zM4 702h1v1h-1zM98 702h3v1h-3zM537 702h2v1h-2zM1154 702h2v1h-2zM8 703h1v1h-1zM93 703h2v1h-2zM9 704h2v1h-2zM92 704h1v1h-1zM542 704h3v1h-3zM818 704h3v1h-3zM824 704h3v1h-3zM1150 704h1v1h-1zM14 705h2v1h-2zM86 705h3v1h-3zM800 705h3v1h-3zM806 705h3v1h-3zM812 705h3v1h-3zM830 705h2v1h-2zM1148 705h2v1h-2zM16 706h1v1h-1zM81 706h2v1h-2zM548 706h3v1h-3zM794 706h3v1h-3zM832 706h1v1h-1zM20 707h2v1h-2zM80 707h1v1h-1zM554 707h2v1h-2zM789 707h2v1h-2zM836 707h3v1h-3zM1142 707h3v1h-3zM22 708h1v1h-1zM74 708h3v1h-3zM556 708h1v1h-1zM776 708h3v1h-3zM782 708h3v1h-3zM788 708h1v1h-1zM842 708h3v1h-3zM1138 708h1v1h-1zM26 709h3v1h-3zM69 709h2v1h-2zM560 709h3v1h-3zM770 709h3v1h-3zM848 709h3v1h-3zM1136 709h2v1h-2zM32 710h3v1h-3zM68 710h1v1h-1zM566 710h3v1h-3zM764 710h3v1h-3zM38 711h2v1h-2zM62 711h3v1h-3zM572 711h3v1h-3zM758 711h3v1h-3zM1132 711h1v1h-1zM40 712h1v1h-1zM44 712h3v1h-3zM50 712h3v1h-3zM56 712h3v1h-3zM578 712h3v1h-3zM584 712h3v1h-3zM590 712h3v1h-3zM596 712h3v1h-3zM602 712h3v1h-3zM608 712h3v1h-3zM614 712h3v1h-3zM620 712h3v1h-3zM626 712h3v1h-3zM746 712h3v1h-3zM752 712h3v1h-3zM854 712h2v1h-2zM1130 712h2v1h-2zM632 713h3v1h-3zM741 713h2v1h-2zM856 713h1v1h-1zM638 714h2v1h-2zM740 714h1v1h-1zM1126 714h1v1h-1zM640 715h1v1h-1zM644 715h2v1h-2zM734 715h3v1h-3zM860 715h3v1h-3zM1124 715h2v1h-2zM646 716h1v1h-1zM650 716h2v1h-2zM722 716h3v1h-3zM728 716h3v1h-3zM866 716h1v1h-1zM652 717h1v1h-1zM717 717h2v1h-2zM867 717h2v1h-2zM1120 717h1v1h-1zM656 718h3v1h-3zM716 718h1v1h-1zM1118 718h2v1h-2zM662 719h2v1h-2zM710 719h3v1h-3zM872 719h1v1h-1zM664 720h1v1h-1zM668 720h3v1h-3zM674 720h2v1h-2zM705 720h2v1h-2zM873 720h2v1h-2zM1114 720h1v1h-1zM676 721h1v1h-1zM704 721h1v1h-1zM1112 721h2v1h-2zM680 722h3v1h-3zM686 722h3v1h-3zM692 722h3v1h-3zM698 722h3v1h-3zM878 722h1v1h-1zM879 723h2v1h-2zM1108 723h1v1h-1zM1106 724h2v1h-2zM884 725h2v1h-2zM886 726h1v1h-1zM1102 726h1v1h-1zM890 727h2v1h-2zM1100 727h2v1h-2zM892 728h1v1h-1zM896 729h1v1h-1zM1096 729h1v1h-1zM897 730h2v1h-2zM1094 730h2v1h-2zM902 731h2v1h-2zM904 732h1v1h-1zM969 732h2v1h-2zM1089 732h2v1h-2zM908 733h3v1h-3zM968 733h1v1h-1zM974 733h2v1h-2zM1088 733h1v1h-1zM914 734h3v1h-3zM920 734h3v1h-3zM938 734h3v1h-3zM944 734h3v1h-3zM950 734h3v1h-3zM956 734h3v1h-3zM962 734h3v1h-3zM976 734h1v1h-1zM980 734h3v1h-3zM986 734h3v1h-3zM992 734h3v1h-3zM998 734h3v1h-3zM1084 734h1v1h-1zM926 735h2v1h-2zM933 735h2v1h-2zM1004 735h2v1h-2zM1082 735h2v1h-2zM928 736h1v1h-1zM932 736h1v1h-1zM1006 736h1v1h-1zM1077 736h2v1h-2zM1010 737h3v1h-3zM1016 737h3v1h-3zM1076 737h1v1h-1zM1022 738h2v1h-2zM1070 738h3v1h-3zM1024 739h1v1h-1zM1028 739h2v1h-2zM1065 739h2v1h-2zM1030 740h1v1h-1zM1034 740h3v1h-3zM1064 740h1v1h-1zM1040 741h3v1h-3zM1046 741h3v1h-3zM1052 741h3v1h-3zM1058 741h3v1h-3z"/>
</g>
<text x="5.8" y="666" font-size="10" fill="#000" stroke="#000" stroke-width="0.15" textLength="148.3" lengthAdjust="spacingAndGlyphs">MACD(12,26,9) 0.003965 0.004853</text>
<rect x="1579" y="655" width="1" height="1" fill="#000"/>
<rect x="1579" y="706" width="1" height="1" fill="#000"/>
<rect x="1579" y="748" width="1" height="1" fill="#000"/>
<text x="1581.6" y="664" font-size="10" fill="#000" stroke="#000" stroke-width="0.15" textLength="38" lengthAdjust="spacingAndGlyphs">0.009478</text>
<text x="1581.6" y="710" font-size="10" fill="#000" stroke="#000" stroke-width="0.15" textLength="17.8" lengthAdjust="spacingAndGlyphs">0.00</text>
<text x="1581.5" y="746" font-size="10" fill="#000" stroke="#000" stroke-width="0.15" textLength="41" lengthAdjust="spacingAndGlyphs">-0.007778</text>
<rect x="2" y="750" width="1" height="3" fill="#000"/>
<text x="0.6" y="762" font-size="10" fill="#000" stroke="#000" stroke-width="0.15" textLength="51.8" lengthAdjust="spacingAndGlyphs">31 Oct 2020</text>
<rect x="66" y="750" width="1" height="3" fill="#000"/>
<text x="64.6" y="762" font-size="10" fill="#000" stroke="#000" stroke-width="0.15" textLength="54.4" lengthAdjust="spacingAndGlyphs">10 Nov 2020</text>
<rect x="130" y="750" width="1" height="3" fill="#000"/>
<text x="128.6" y="762" font-size="10" fill="#000" stroke="#000" stroke-width="0.15" textLength="54.4" lengthAdjust="spacingAndGlyphs">19 Nov 2020</text>
<rect x="194" y="750" width="1" height="3" fill="#000"/>
<text x="192.6" y="762" font-size="10" fill="#000" stroke="#000" stroke-width="0.15" textLength="54.6" lengthAdjust="spacingAndGlyphs">28 Nov 2020</text>
<rect x="258" y="750" width="1" height="3" fill="#000"/>
<text x="256.6" y="762" font-size="10" fill="#000" stroke="#000" stroke-width="0.15" textLength="47.8" lengthAdjust="spacingAndGlyphs">8 Dec 2020</text>
<rect x="322" y="750" width="1" height="3" fill="#000"/>
<text x="320.6" y="762" font-size="10" fill="#000" stroke="#000" stroke-width="0.15" textLength="52.6" lengthAdjust="spacingAndGlyphs">17 Dec 2020</text>
<rect x="386" y="750" width="1" height="3" fill="#000"/>
<text x="384.6" y="762" font-size="10" fill="#000" stroke="#000" stroke-width="0.15" textLength="52.8" lengthAdjust="spacingAndGlyphs">28 Dec 2020</text>
<rect x="450" y="750" width="1" height="3" fill="#000"/>
<text x="448.6" y="762" font-size="10" fill="#000" stroke="#000" stroke-width="0.15" textLength="45.4" lengthAdjust="spacingAndGlyphs">7 Jan 2021</text>
<rect x="514" y="750" width="1" height="3" fill="#000"/>
<text x="512.6" y="762" font-size="10" fill="#000" stroke="#000" stroke-width="0.15" textLength="49.8" lengthAdjust="spacingAndGlyphs">16 Jan 2021</text>
<rect x="578" y="750" width="1" height="3" fill="#000"/>
<text x="576.6" y="762" font-size="10" fill="#000" stroke="#000" stroke-width="0.15" textLength="49.8" lengthAdjust="spacingAndGlyphs">26 Jan 2021</text>
<rect x="642" y="750" width="1" height="3" fill="#000"/>
<text x="640.6" y="762" font-size="10" fill="#000" stroke="#000" stroke-width="0.15" textLength="47.4" lengthAdjust="spacingAndGlyphs">4 Feb 2021</text>
<rect x="706" y="750" width="1" height="3" fill="#000"/>
<text x="704.6" y="762" font-size="10" fill="#000" stroke="#000" stroke-width="0.15" textLength="52" lengthAdjust="spacingAndGlyphs">13 Feb 2021</text>
<rect x="770" y="750" width="1" height="3" fill="#000"/>
<text x="768.6" y="762" font-size="10" fill="#000" stroke="#000" stroke-width="0.15" textLength="52" lengthAdjust="spacingAndGlyphs">23 Feb 2021</text>
<rect x="834" y="750" width="1" height="3" fill="#000"/>
<text x="832.6" y="762" font-size="10" fill="#000" stroke="#000" stroke-width="0.15" textLength="47.4" lengthAdjust="spacingAndGlyphs">4 Mar 2021</text>
<rect x="898" y="750" width="1" height="3" fill="#000"/>
<text x="896.6" y="762" font-size="10" fill="#000" stroke="#000" stroke-width="0.15" textLength="51.6" lengthAdjust="spacingAndGlyphs">13 Mar 2021</text>
<rect x="962" y="750" width="1" height="3" fill="#000"/>
<text x="960.6" y="762" font-size="10" fill="#000" stroke="#000" stroke-width="0.15" textLength="52.2" lengthAdjust="spacingAndGlyphs">23 Mar 2021</text>
<rect x="1026" y="750" width="1" height="3" fill="#000"/>
<text x="1024.6" y="762" font-size="10" fill="#000" stroke="#000" stroke-width="0.15" textLength="45.8" lengthAdjust="spacingAndGlyphs">1 Apr 2021</text>
<rect x="1090" y="750" width="1" height="3" fill="#000"/>
<text x="1088.6" y="762" font-size="10" fill="#000" stroke="#000" stroke-width="0.15" textLength="50.6" lengthAdjust="spacingAndGlyphs">10 Apr 2021</text>
<rect x="1154" y="750" width="1" height="3" fill="#000"/>
<text x="1152.6" y="762" font-size="10" fill="#000" stroke="#000" stroke-width="0.15" textLength="50.8" lengthAdjust="spacingAndGlyphs">20 Apr 2021</text>
<rect x="1218" y="750" width="1" height="3" fill="#000"/>
<text x="1216.6" y="762" font-size="10" fill="#000" stroke="#000" stroke-width="0.15" textLength="50.8" lengthAdjust="spacingAndGlyphs">29 Apr 2021</text>
<rect x="0" y="770" width="1620" height="1" fill="#e6e6e6"/>
<rect x="0" y="771" width="1620" height="1" fill="#fbfbfb"/>
<rect x="0" y="772" width="1620" height="19" fill="#f0f0f0"/>
<rect x="0" y="772" width="1620" height="1" fill="#000"/>
<rect x="0" y="773" width="1620" height="1" fill="#fcfcfc"/>
<rect x="0" y="792" width="1620" height="1" fill="#fcfcfc"/>
<rect x="0" y="793" width="1620" height="3" fill="#f0f0f0"/>
<rect x="3" y="771" width="104" height="20" fill="#fff"/>
<rect x="3" y="772" width="1" height="19" fill="#000"/>
<rect x="106" y="772" width="1" height="19" fill="#000"/>
<rect x="3" y="790" width="104" height="1" fill="#000"/>
<rect x="107" y="773" width="1" height="18" fill="#fcfcfc"/>
<text x="14.6" y="787" font-size="13" fill="#000" stroke="#000" stroke-width="0" textLength="81" lengthAdjust="spacingAndGlyphs">EURUSD,Daily</text>
<text x="116.5" y="787" font-size="13" fill="#6a6a6a" stroke="#6a6a6a" stroke-width="0" textLength="80.3" lengthAdjust="spacingAndGlyphs">USDCHF,Daily</text>
<text x="217.5" y="787" font-size="13" fill="#6a6a6a" stroke="#6a6a6a" stroke-width="0" textLength="83" lengthAdjust="spacingAndGlyphs">AUDUSD,Daily</text>
<text x="321.5" y="787" font-size="13" fill="#6a6a6a" stroke="#6a6a6a" stroke-width="0" textLength="82" lengthAdjust="spacingAndGlyphs">USDCAD,Daily</text>
<text x="424.8" y="787" font-size="13" fill="#6a6a6a" stroke="#6a6a6a" stroke-width="0" textLength="84.1" lengthAdjust="spacingAndGlyphs">USDCNH,Daily</text>
<text x="531.1" y="787" font-size="13" fill="#6a6a6a" stroke="#6a6a6a" stroke-width="0" textLength="80.8" lengthAdjust="spacingAndGlyphs">EURUSD,Daily</text>
<text x="634.9" y="787" font-size="13" fill="#6a6a6a" stroke="#6a6a6a" stroke-width="0" textLength="80.8" lengthAdjust="spacingAndGlyphs">GBPUSD,Daily</text>
<text x="737.5" y="787" font-size="13" fill="#6a6a6a" stroke="#6a6a6a" stroke-width="0" textLength="69.5" lengthAdjust="spacingAndGlyphs">XAUUSD,H4</text>
<text x="830.5" y="787" font-size="13" fill="#6a6a6a" stroke="#6a6a6a" stroke-width="0" textLength="60.6" lengthAdjust="spacingAndGlyphs">HK50,M15</text>
<text x="913.9" y="787" font-size="13" fill="#6a6a6a" stroke="#6a6a6a" stroke-width="0" textLength="57.6" lengthAdjust="spacingAndGlyphs">UK100,H1</text>
<text x="993.9" y="787" font-size="13" fill="#6a6a6a" stroke="#6a6a6a" stroke-width="0" textLength="57.2" lengthAdjust="spacingAndGlyphs">UK100,H1</text>
<text x="1074.2" y="787" font-size="13" fill="#6a6a6a" stroke="#6a6a6a" stroke-width="0" textLength="56.7" lengthAdjust="spacingAndGlyphs">GER30,H1</text>
<text x="1152.5" y="787" font-size="13" fill="#6a6a6a" stroke="#6a6a6a" stroke-width="0" textLength="55.6" lengthAdjust="spacingAndGlyphs">FRA40,H1</text>
<text x="1229.2" y="787" font-size="13" fill="#6a6a6a" stroke="#6a6a6a" stroke-width="0" textLength="50.9" lengthAdjust="spacingAndGlyphs">USOil,H1</text>
<text x="1301.1" y="787" font-size="13" fill="#6a6a6a" stroke="#6a6a6a" stroke-width="0" textLength="62.4" lengthAdjust="spacingAndGlyphs">USDJPY,H1</text>
<text x="1386" y="787" font-size="13" fill="#6a6a6a" stroke="#6a6a6a" stroke-width="0" textLength="73.9" lengthAdjust="spacingAndGlyphs">DJ30,Weekly</text>
<text x="1480.9" y="787" font-size="13" fill="#6a6a6a" stroke="#6a6a6a" stroke-width="0" textLength="79" lengthAdjust="spacingAndGlyphs">CHINA300,H1</text>
<text x="1581.1" y="787" font-size="13" fill="#6a6a6a" stroke="#6a6a6a" stroke-width="0" textLength="7.9" lengthAdjust="spacingAndGlyphs">U</text>
<rect x="207" y="775" width="1" height="14" fill="#555"/>
<rect x="311" y="775" width="1" height="14" fill="#555"/>
<rect x="415" y="775" width="1" height="14" fill="#555"/>
<rect x="519" y="775" width="1" height="14" fill="#555"/>
<rect x="623" y="775" width="1" height="14" fill="#555"/>
<rect x="727" y="775" width="1" height="14" fill="#555"/>
<rect x="819" y="775" width="1" height="14" fill="#555"/>
<rect x="903" y="775" width="1" height="14" fill="#555"/>
<rect x="983" y="775" width="1" height="14" fill="#555"/>
<rect x="1064" y="775" width="1" height="14" fill="#555"/>
<rect x="1143" y="775" width="1" height="14" fill="#555"/>
<rect x="1219" y="775" width="1" height="14" fill="#555"/>
<rect x="1291" y="775" width="1" height="14" fill="#555"/>
<rect x="1375" y="775" width="1" height="14" fill="#555"/>
<rect x="1471" y="775" width="1" height="14" fill="#555"/>
<rect x="1571" y="775" width="1" height="14" fill="#555"/>
<path d="M1597.5 777.5 L1597.5 784.5 L1594 781 Z" fill="#9a9a9a" shape-rendering="auto"/>
<path d="M1612.5 777 L1612.5 785 L1616.5 781 Z" fill="#000" shape-rendering="auto"/>
</svg>
</body></html>
